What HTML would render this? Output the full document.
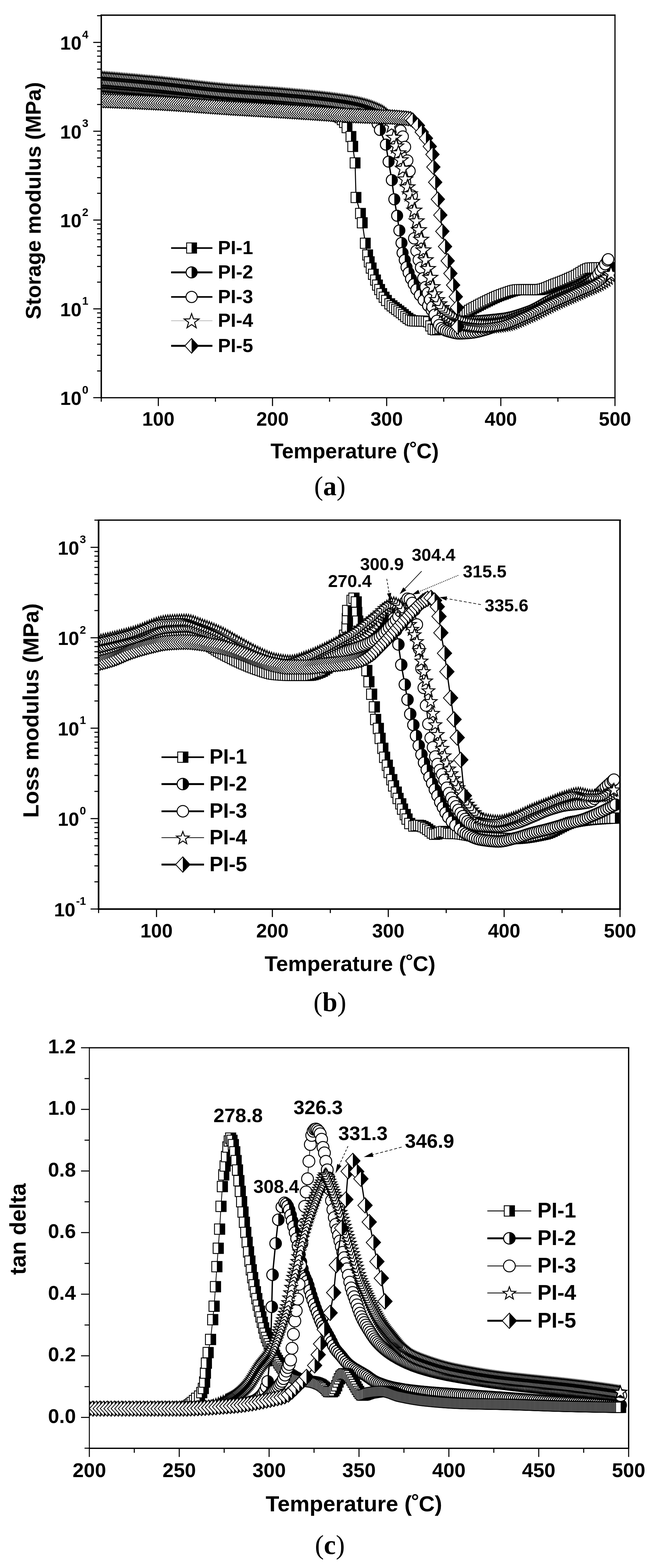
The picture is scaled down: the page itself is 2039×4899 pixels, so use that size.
<!DOCTYPE html>
<html lang="en"><head><meta charset="utf-8"><title>DMA curves of PI films</title><style>html,body{margin:0;padding:0;background:#fff}svg{display:block}.ss{font-family:"Liberation Sans",sans-serif}.sf{font-family:"Liberation Serif","DejaVu Serif",serif}</style></head><body>
<svg width="2039" height="4899" viewBox="0 0 2039 4899"><defs><marker id="m1a" markerUnits="userSpaceOnUse" markerWidth="60" markerHeight="60" viewBox="-30.0 -30.0 60 60" refX="0" refY="0" orient="0" overflow="visible"><rect x="-15.5" y="-16.0" width="31" height="32" fill="#fff" stroke="#000" stroke-width="2.7"/><rect x="0" y="-16.0" width="15.5" height="32" fill="#000"/></marker><g id="gm1a"><rect x="-15.5" y="-16.0" width="31" height="32" fill="#fff" stroke="#000" stroke-width="2.7"/><rect x="0" y="-16.0" width="15.5" height="32" fill="#000"/></g><marker id="m2a" markerUnits="userSpaceOnUse" markerWidth="60" markerHeight="60" viewBox="-30.0 -30.0 60 60" refX="0" refY="0" orient="0" overflow="visible"><circle r="17.2" fill="#fff" stroke="#000" stroke-width="3.2"/><path d="M0,-17.2 A17.2,17.2 0 0 1 0,17.2 Z" fill="#000"/></marker><g id="gm2a"><circle r="17.2" fill="#fff" stroke="#000" stroke-width="3.2"/><path d="M0,-17.2 A17.2,17.2 0 0 1 0,17.2 Z" fill="#000"/></g><marker id="m3a" markerUnits="userSpaceOnUse" markerWidth="60" markerHeight="60" viewBox="-30.0 -30.0 60 60" refX="0" refY="0" orient="0" overflow="visible"><circle r="17.5" fill="#fff" stroke="#000" stroke-width="3.0"/></marker><g id="gm3a"><circle r="17.5" fill="#fff" stroke="#000" stroke-width="3.0"/></g><marker id="m4a" markerUnits="userSpaceOnUse" markerWidth="60" markerHeight="60" viewBox="-30.0 -30.0 60 60" refX="0" refY="0" orient="0" overflow="visible"><polygon points="0.0,-22.5 5.8,-6.0 23.3,-5.6 9.3,5.0 14.4,21.8 0.0,11.8 -14.4,21.8 -9.3,5.0 -23.3,-5.6 -5.8,-6.0" fill="#fff" stroke="#000" stroke-width="3.0" stroke-linejoin="miter"/></marker><g id="gm4a"><polygon points="0.0,-22.5 5.8,-6.0 23.3,-5.6 9.3,5.0 14.4,21.8 0.0,11.8 -14.4,21.8 -9.3,5.0 -23.3,-5.6 -5.8,-6.0" fill="#fff" stroke="#000" stroke-width="3.0" stroke-linejoin="miter"/></g><marker id="m5a" markerUnits="userSpaceOnUse" markerWidth="60" markerHeight="60" viewBox="-30.0 -30.0 60 60" refX="0" refY="0" orient="0" overflow="visible"><polygon points="-21,0 0,-23 21,0 0,23" fill="#fff" stroke="#000" stroke-width="2.5"/><polygon points="0,-23 21,0 0,23" fill="#000"/></marker><g id="gm5a"><polygon points="-21,0 0,-23 21,0 0,23" fill="#fff" stroke="#000" stroke-width="2.5"/><polygon points="0,-23 21,0 0,23" fill="#000"/></g><marker id="m1b" markerUnits="userSpaceOnUse" markerWidth="60" markerHeight="60" viewBox="-30.0 -30.0 60 60" refX="0" refY="0" orient="0" overflow="visible"><rect x="-16.0" y="-16.25" width="32" height="32.5" fill="#fff" stroke="#000" stroke-width="2.7"/><rect x="0" y="-16.25" width="16.0" height="32.5" fill="#000"/></marker><g id="gm1b"><rect x="-16.0" y="-16.25" width="32" height="32.5" fill="#fff" stroke="#000" stroke-width="2.7"/><rect x="0" y="-16.25" width="16.0" height="32.5" fill="#000"/></g><marker id="m2b" markerUnits="userSpaceOnUse" markerWidth="60" markerHeight="60" viewBox="-30.0 -30.0 60 60" refX="0" refY="0" orient="0" overflow="visible"><circle r="17.8" fill="#fff" stroke="#000" stroke-width="3.2"/><path d="M0,-17.8 A17.8,17.8 0 0 1 0,17.8 Z" fill="#000"/></marker><g id="gm2b"><circle r="17.8" fill="#fff" stroke="#000" stroke-width="3.2"/><path d="M0,-17.8 A17.8,17.8 0 0 1 0,17.8 Z" fill="#000"/></g><marker id="m3b" markerUnits="userSpaceOnUse" markerWidth="60" markerHeight="60" viewBox="-30.0 -30.0 60 60" refX="0" refY="0" orient="0" overflow="visible"><circle r="18" fill="#fff" stroke="#000" stroke-width="3.0"/></marker><g id="gm3b"><circle r="18" fill="#fff" stroke="#000" stroke-width="3.0"/></g><marker id="m4b" markerUnits="userSpaceOnUse" markerWidth="60" markerHeight="60" viewBox="-30.0 -30.0 60 60" refX="0" refY="0" orient="0" overflow="visible"><polygon points="0.0,-19.3 5.1,-5.3 20.0,-4.8 8.2,4.3 12.3,18.7 0.0,10.3 -12.3,18.7 -8.2,4.3 -20.0,-4.8 -5.1,-5.3" fill="#fff" stroke="#000" stroke-width="3.0" stroke-linejoin="miter"/></marker><g id="gm4b"><polygon points="0.0,-19.3 5.1,-5.3 20.0,-4.8 8.2,4.3 12.3,18.7 0.0,10.3 -12.3,18.7 -8.2,4.3 -20.0,-4.8 -5.1,-5.3" fill="#fff" stroke="#000" stroke-width="3.0" stroke-linejoin="miter"/></g><marker id="m5b" markerUnits="userSpaceOnUse" markerWidth="60" markerHeight="60" viewBox="-30.0 -30.0 60 60" refX="0" refY="0" orient="0" overflow="visible"><polygon points="-22.5,0 0,-24 22.5,0 0,24" fill="#fff" stroke="#000" stroke-width="2.5"/><polygon points="0,-24 22.5,0 0,24" fill="#000"/></marker><g id="gm5b"><polygon points="-22.5,0 0,-24 22.5,0 0,24" fill="#fff" stroke="#000" stroke-width="2.5"/><polygon points="0,-24 22.5,0 0,24" fill="#000"/></g><marker id="m1c" markerUnits="userSpaceOnUse" markerWidth="60" markerHeight="60" viewBox="-30.0 -30.0 60 60" refX="0" refY="0" orient="0" overflow="visible"><rect x="-16.0" y="-16.25" width="32" height="32.5" fill="#fff" stroke="#000" stroke-width="2.7"/><rect x="0" y="-16.25" width="16.0" height="32.5" fill="#000"/></marker><g id="gm1c"><rect x="-16.0" y="-16.25" width="32" height="32.5" fill="#fff" stroke="#000" stroke-width="2.7"/><rect x="0" y="-16.25" width="16.0" height="32.5" fill="#000"/></g><marker id="m2c" markerUnits="userSpaceOnUse" markerWidth="60" markerHeight="60" viewBox="-30.0 -30.0 60 60" refX="0" refY="0" orient="0" overflow="visible"><circle r="18" fill="#fff" stroke="#000" stroke-width="3.2"/><path d="M0,-18 A18,18 0 0 1 0,18 Z" fill="#000"/></marker><g id="gm2c"><circle r="18" fill="#fff" stroke="#000" stroke-width="3.2"/><path d="M0,-18 A18,18 0 0 1 0,18 Z" fill="#000"/></g><marker id="m3c" markerUnits="userSpaceOnUse" markerWidth="60" markerHeight="60" viewBox="-30.0 -30.0 60 60" refX="0" refY="0" orient="0" overflow="visible"><circle r="18.5" fill="#fff" stroke="#000" stroke-width="3.0"/></marker><g id="gm3c"><circle r="18.5" fill="#fff" stroke="#000" stroke-width="3.0"/></g><marker id="m4c" markerUnits="userSpaceOnUse" markerWidth="60" markerHeight="60" viewBox="-30.0 -30.0 60 60" refX="0" refY="0" orient="0" overflow="visible"><polygon points="0.0,-19.3 5.1,-5.3 20.0,-4.8 8.2,4.3 12.3,18.7 0.0,10.3 -12.3,18.7 -8.2,4.3 -20.0,-4.8 -5.1,-5.3" fill="#fff" stroke="#000" stroke-width="3.0" stroke-linejoin="miter"/></marker><g id="gm4c"><polygon points="0.0,-19.3 5.1,-5.3 20.0,-4.8 8.2,4.3 12.3,18.7 0.0,10.3 -12.3,18.7 -8.2,4.3 -20.0,-4.8 -5.1,-5.3" fill="#fff" stroke="#000" stroke-width="3.0" stroke-linejoin="miter"/></g><marker id="m5c" markerUnits="userSpaceOnUse" markerWidth="60" markerHeight="60" viewBox="-30.0 -30.0 60 60" refX="0" refY="0" orient="0" overflow="visible"><polygon points="-22.5,0 0,-24 22.5,0 0,24" fill="#fff" stroke="#000" stroke-width="2.5"/><polygon points="0,-24 22.5,0 0,24" fill="#000"/></marker><g id="gm5c"><polygon points="-22.5,0 0,-24 22.5,0 0,24" fill="#fff" stroke="#000" stroke-width="2.5"/><polygon points="0,-24 22.5,0 0,24" fill="#000"/></g></defs>
<clipPath id="ca"><rect x="316.2" y="47.4" width="1604.1" height="1195.1999999999998"/></clipPath>
<g clip-path="url(#ca)">
<polyline points="316,300 323.1,300.3 330.2,300.6 337.3,300.9 344.4,301.3 351.5,301.6 358.6,301.9 365.7,302.3 372.8,302.6 379.9,303 387,303.4 394.1,303.7 401.2,304.1 408.3,304.5 415.4,304.9 422.5,305.3 429.6,305.7 436.7,306.1 443.8,306.5 450.9,306.9 458,307.4 465.1,307.8 472.2,308.2 479.3,308.7 486.4,309.1 493.5,309.6 500.6,310 507.7,310.5 514.8,311 521.9,311.5 529,312 536.1,312.5 543.2,313 550.3,313.5 557.4,314.1 564.5,314.6 571.6,315.2 578.7,315.7 585.8,316.3 592.9,316.9 600,317.4 607.1,318 614.2,318.6 621.3,319.2 628.4,319.8 635.5,320.4 642.6,321 649.7,321.6 656.8,322.2 663.9,322.9 671,323.5 678.1,324.1 685.2,324.7 692.3,325.3 699.4,325.9 706.5,326.6 713.6,327.2 720.7,327.8 727.8,328.4 734.9,329.1 742,329.7 749.1,330.3 756.2,331 763.3,331.6 770.4,332.2 777.5,332.9 784.6,333.5 791.7,334.2 798.8,334.9 805.9,335.5 813,336.2 820.1,336.9 827.2,337.6 834.3,338.3 841.4,339 848.5,339.7 855.6,340.4 862.7,341.1 869.8,341.8 876.9,342.6 884,343.3 891.1,344 898.2,344.8 905.3,345.6 912.4,346.2 919.5,346.9 926.6,347.4 933.7,348 940.8,348.5 947.9,349.1 955,349.6 962.1,350.1 969.2,350.7 976.3,351.3 983.4,352 990.5,352.7 997.6,353.5 1004.7,354.4 1011.8,355.4 1018.9,356.4 1026,357.6 1033.1,359 1040.2,360.4 1047.3,362.1 1054.4,363.8 1061.5,367.3 1068.6,373.7 1075.7,382.4 1083.6,398.7 1095.9,426.7 1101.5,457.5 1108.8,509 1111.6,617 1125.6,667 1131.2,696 1140.7,760 1148,796.6 1153,818 1159,837.5 1165.9,857 1172.6,875 1178.7,890.7 1185.4,904.7 1192,917.5 1199.4,928.7 1206.7,938.8 1217.1,949.3 1224.2,955.5 1231.3,961.2 1238.4,966.5 1245.5,971.7 1252.6,977 1259.7,982.9 1266.8,989 1273.9,994.6 1281,999.2 1288.1,1002 1295.2,1002.8 1302.3,1003 1309.4,1003.1 1316.5,1003.2 1323.6,1003.4 1330.7,1003.6 1337.8,1005.7 1344.9,1018.2 1352,1028.4 1359.1,1030.4 1366.2,1029 1373.3,1026.4 1380.4,1022.9 1387.5,1019 1394.6,1014.9 1401.7,1011.1 1408.8,1006.9 1415.9,1002.1 1423,997.1 1430.1,991.9 1437.2,986.9 1444.3,982.3 1451.4,978 1458.5,973.8 1465.6,969.7 1472.7,965.7 1479.8,961.7 1486.9,957.9 1494,954.1 1501.1,950.5 1508.2,946.9 1515.3,943.4 1522.4,939.9 1529.5,936.4 1536.6,933 1543.7,929.7 1550.8,926.6 1557.9,923.7 1565,921 1572.1,918.6 1579.2,916 1586.3,913.5 1593.4,911 1600.5,908.8 1607.6,907 1614.7,905.7 1621.8,905 1628.9,905 1636,905 1643.1,905 1650.2,905 1657.3,905 1664.4,905 1671.5,905 1678.6,905 1685.7,904.7 1692.8,903.4 1699.9,901.4 1707,898.9 1714.1,896 1721.2,893 1728.3,890 1735.4,887.2 1742.5,884.6 1749.6,881.9 1756.7,879.1 1763.8,876.2 1770.9,873.2 1778,870.1 1785.1,867 1792.2,863.9 1799.3,860.3 1806.4,856.1 1813.5,851.7 1820.6,847.3 1827.7,843.3 1834.8,840 1841.9,837.8 1849,837 1856.1,836.8 1863.2,836.6 1870.3,836.4 1877.4,836.3 1884.5,836.2 1891.6,836.1 1898.7,836 1905.8,836 1908,836" fill="none" stroke="#000" stroke-width="3.2" stroke-linejoin="round" marker-start="url(#m1a)" marker-mid="url(#m1a)" marker-end="url(#m1a)"/>
<polyline points="316,270 321.2,270.4 326.4,270.8 331.6,271.1 336.8,271.5 342,271.9 347.2,272.3 352.4,272.7 357.6,273.1 362.8,273.5 368,273.9 373.2,274.3 378.4,274.7 383.6,275.1 388.8,275.6 394,276 399.2,276.4 404.4,276.8 409.6,277.2 414.8,277.7 420,278.1 425.2,278.5 430.4,279 435.6,279.4 440.8,279.8 446,280.3 451.2,280.7 456.4,281.2 461.6,281.6 466.8,282.1 472,282.5 477.2,283 482.4,283.4 487.6,283.9 492.8,284.4 498,284.8 503.2,285.3 508.4,285.8 513.6,286.2 518.8,286.7 524,287.2 529.2,287.7 534.4,288.2 539.6,288.7 544.8,289.2 550,289.8 555.2,290.3 560.4,290.8 565.6,291.3 570.8,291.9 576,292.4 581.2,292.9 586.4,293.5 591.6,294 596.8,294.5 602,295.1 607.2,295.6 612.4,296.2 617.6,296.7 622.8,297.2 628,297.8 633.2,298.3 638.4,298.9 643.6,299.4 648.8,299.9 654,300.5 659.2,301 664.4,301.5 669.6,302 674.8,302.6 680,303.1 685.2,303.6 690.4,304.1 695.6,304.6 700.8,305.1 706,305.6 711.2,306 716.4,306.5 721.6,307 726.8,307.5 732,307.9 737.2,308.4 742.4,308.9 747.6,309.3 752.8,309.8 758,310.2 763.2,310.7 768.4,311.1 773.6,311.6 778.8,312 784,312.5 789.2,312.9 794.4,313.4 799.6,313.8 804.8,314.3 810,314.7 815.2,315.2 820.4,315.6 825.6,316.1 830.8,316.5 836,317 841.2,317.4 846.4,317.9 851.6,318.4 856.8,318.9 862,319.3 867.2,319.8 872.4,320.3 877.6,320.8 882.8,321.3 888,321.8 893.2,322.3 898.4,322.8 903.6,323.4 908.8,323.9 914,324.4 919.2,324.9 924.4,325.4 929.6,325.8 934.8,326.3 940,326.8 945.2,327.2 950.4,327.7 955.6,328.2 960.8,328.7 966,329.1 971.2,329.6 976.4,330.1 981.6,330.6 986.8,331.1 992,331.6 997.2,332.1 1002.4,332.6 1007.6,333.1 1012.8,333.7 1018,334.2 1023.2,334.8 1028.4,335.4 1033.6,336 1038.8,336.7 1044,337.3 1049.2,338 1054.4,338.7 1059.6,339.4 1064.8,340.2 1070,340.9 1075.2,341.7 1080.4,342.6 1085.6,343.4 1090.8,344.3 1096,345.3 1101.2,346.2 1106.4,347.2 1111.6,348.2 1116.8,349.2 1122,350.3 1127.2,351.5 1132.4,352.9 1137.6,354.4 1142.8,356.2 1148,358.1 1153.2,360.4 1158.4,363 1163.6,365.9 1168.8,369.2 1174,374.9 1179.2,386.4 1186.3,406 1205,451.8 1213.4,505 1223.5,562.7 1231.3,622.6 1240,674 1247,720 1253.7,759 1257,790 1263.8,812.3 1269.4,834.7 1276,852 1283.4,871 1291.8,888 1300,904.7 1311,922 1322.6,938 1336.6,955 1347.8,969 1357.1,978 1364.2,983.9 1371.3,988.8 1378.4,993.5 1385.5,997.8 1392.6,1001.2 1399.7,1003 1406.8,1003.6 1413.9,1004.1 1421,1004.5 1428.1,1004.8 1435.2,1005 1442.3,1005 1449.4,1004.9 1456.5,1004.8 1463.6,1004.6 1470.7,1004.3 1477.8,1004 1484.9,1003.6 1492,1003.2 1499.1,1002.7 1506.2,1002.2 1513.3,1001.6 1520.4,1001 1527.5,1000.3 1534.6,999.6 1541.7,998.9 1548.8,998.2 1555.9,997.4 1563,996.6 1570.1,995.7 1577.2,994.7 1584.3,993.4 1591.4,991.9 1598.5,990.2 1605.6,988.3 1612.7,986.3 1619.8,984.1 1626.9,981.8 1634,979.4 1641.1,976.9 1648.2,974.4 1655.3,971.8 1662.4,968.8 1669.5,965.4 1676.6,961.8 1683.7,957.9 1690.8,953.9 1697.9,949.7 1705,945.6 1712.1,941.5 1719.2,937.5 1726.3,933.7 1733.4,930.2 1740.5,927 1747.6,924 1754.7,921.1 1761.8,918.4 1768.9,915.8 1776,913.2 1783.1,910.6 1790.2,907.9 1797.3,905.1 1804.4,902.2 1811.5,899 1818.6,895.7 1825.7,892 1832.8,887.9 1839.9,883.5 1847,878.9 1854.1,874.2 1861.2,869.4 1868.3,864.8 1875.4,860.4 1882.5,856.1 1889.6,852 1896.7,847.9 1900,846" fill="none" stroke="#000" stroke-width="4.2" stroke-linejoin="round" marker-start="url(#m2a)" marker-mid="url(#m2a)" marker-end="url(#m2a)"/>
<polyline points="316,258 321.2,258.4 326.4,258.8 331.6,259.1 336.8,259.5 342,259.9 347.2,260.3 352.4,260.7 357.6,261.1 362.8,261.5 368,261.9 373.2,262.3 378.4,262.7 383.6,263.1 388.8,263.6 394,264 399.2,264.4 404.4,264.8 409.6,265.2 414.8,265.7 420,266.1 425.2,266.5 430.4,267 435.6,267.4 440.8,267.8 446,268.3 451.2,268.7 456.4,269.2 461.6,269.6 466.8,270.1 472,270.5 477.2,271 482.4,271.4 487.6,271.9 492.8,272.4 498,272.8 503.2,273.3 508.4,273.8 513.6,274.2 518.8,274.7 524,275.2 529.2,275.7 534.4,276.2 539.6,276.7 544.8,277.2 550,277.8 555.2,278.3 560.4,278.8 565.6,279.3 570.8,279.9 576,280.4 581.2,280.9 586.4,281.5 591.6,282 596.8,282.5 602,283.1 607.2,283.6 612.4,284.2 617.6,284.7 622.8,285.2 628,285.8 633.2,286.3 638.4,286.9 643.6,287.4 648.8,287.9 654,288.5 659.2,289 664.4,289.5 669.6,290 674.8,290.6 680,291.1 685.2,291.6 690.4,292.1 695.6,292.6 700.8,293.1 706,293.6 711.2,294 716.4,294.5 721.6,295 726.8,295.5 732,295.9 737.2,296.4 742.4,296.8 747.6,297.3 752.8,297.8 758,298.2 763.2,298.7 768.4,299.1 773.6,299.5 778.8,300 784,300.4 789.2,300.9 794.4,301.3 799.6,301.8 804.8,302.2 810,302.7 815.2,303.1 820.4,303.6 825.6,304 830.8,304.5 836,304.9 841.2,305.4 846.4,305.9 851.6,306.3 856.8,306.8 862,307.3 867.2,307.8 872.4,308.3 877.6,308.8 882.8,309.3 888,309.8 893.2,310.3 898.4,310.8 903.6,311.4 908.8,311.9 914,312.4 919.2,313 924.4,313.5 929.6,314 934.8,314.5 940,315 945.2,315.6 950.4,316.1 955.6,316.6 960.8,317.2 966,317.7 971.2,318.2 976.4,318.8 981.6,319.3 986.8,319.9 992,320.5 997.2,321 1002.4,321.6 1007.6,322.2 1012.8,322.8 1018,323.4 1023.2,324.1 1028.4,324.7 1033.6,325.3 1038.8,326 1044,326.7 1049.2,327.4 1054.4,328.1 1059.6,328.8 1064.8,329.5 1070,330.3 1075.2,331.1 1080.4,331.8 1085.6,332.7 1090.8,333.5 1096,334.3 1101.2,335.2 1106.4,336.1 1111.6,337 1116.8,337.9 1122,338.8 1127.2,339.8 1132.4,340.8 1137.6,341.9 1142.8,343 1148,344.1 1153.2,345.3 1158.4,346.6 1163.6,348 1168.8,349.4 1174,350.9 1179.2,352.5 1184.4,354.3 1189.6,356.1 1194.8,358 1200,360 1205.2,362.3 1210.4,365.1 1215.6,368.4 1220.8,372.2 1226,376.4 1231.2,381.2 1236.4,386.5 1243.5,395.6 1250.6,408 1257.7,426.5 1264.8,459.1 1271.9,501.4 1279,534.2 1286.1,611.1 1293.2,744.7 1300.3,783.8 1307.4,812.1 1314.5,836.2 1321.6,869.3 1328.7,896.9 1335.8,915.6 1342.9,936.2 1350,958.9 1357.1,983.3 1364.2,1002.3 1371.3,1015.4 1378.4,1024.9 1385.5,1029.6 1392.6,1032.8 1399.7,1035.1 1406.8,1037 1413.9,1038.9 1421,1040.6 1428.1,1041.7 1435.2,1042 1442.3,1041.9 1449.4,1041.5 1456.5,1041.1 1463.6,1040.5 1470.7,1039.9 1477.8,1039.1 1484.9,1037.8 1492,1036.2 1499.1,1034.5 1506.2,1032.6 1513.3,1030.6 1520.4,1028.5 1527.5,1026 1534.6,1023.3 1541.7,1020.5 1548.8,1017.6 1555.9,1014.7 1563,1011.9 1570.1,1009.2 1577.2,1006.7 1584.3,1004.2 1591.4,1001.7 1598.5,999.2 1605.6,996.7 1612.7,994.1 1619.8,991.6 1626.9,988.9 1634,986.3 1641.1,983.6 1648.2,980.9 1655.3,978.2 1662.4,975.4 1669.5,972.5 1676.6,969.5 1683.7,966.3 1690.8,963 1697.9,959.4 1705,955.8 1712.1,952.1 1719.2,948.4 1726.3,944.7 1733.4,941.2 1740.5,937.9 1747.6,934.8 1754.7,931.8 1761.8,928.8 1768.9,925.8 1776,922.7 1783.1,919.4 1790.2,915.9 1797.3,912.2 1804.4,908.5 1811.5,904.7 1818.6,900.7 1825.7,896.4 1832.8,891.7 1839.9,886.6 1847,880.9 1854.1,874.1 1861.2,865.8 1868.3,856.4 1875.4,846.5 1882.5,836.4 1889.6,825.5 1896.7,813.9 1899,810" fill="none" stroke="#000" stroke-width="3.0" stroke-linejoin="round" marker-start="url(#m3a)" marker-mid="url(#m3a)" marker-end="url(#m3a)"/>
<polyline points="316,246 321.2,246.4 326.4,246.8 331.6,247.2 336.8,247.6 342,248 347.2,248.4 352.4,248.8 357.6,249.3 362.8,249.7 368,250.1 373.2,250.6 378.4,251 383.6,251.4 388.8,251.9 394,252.3 399.2,252.8 404.4,253.2 409.6,253.7 414.8,254.1 420,254.6 425.2,255 430.4,255.5 435.6,256 440.8,256.4 446,256.9 451.2,257.4 456.4,257.9 461.6,258.4 466.8,258.8 472,259.3 477.2,259.8 482.4,260.3 487.6,260.8 492.8,261.3 498,261.8 503.2,262.3 508.4,262.8 513.6,263.4 518.8,263.9 524,264.5 529.2,265 534.4,265.6 539.6,266.2 544.8,266.7 550,267.3 555.2,267.9 560.4,268.5 565.6,269.1 570.8,269.7 576,270.4 581.2,271 586.4,271.6 591.6,272.2 596.8,272.8 602,273.4 607.2,274 612.4,274.7 617.6,275.3 622.8,275.9 628,276.5 633.2,277.1 638.4,277.7 643.6,278.3 648.8,278.8 654,279.4 659.2,280 664.4,280.5 669.6,281.1 674.8,281.6 680,282.1 685.2,282.6 690.4,283.1 695.6,283.6 700.8,284.1 706,284.5 711.2,285 716.4,285.4 721.6,285.8 726.8,286.2 732,286.7 737.2,287.1 742.4,287.4 747.6,287.8 752.8,288.2 758,288.6 763.2,288.9 768.4,289.3 773.6,289.7 778.8,290 784,290.4 789.2,290.7 794.4,291.1 799.6,291.4 804.8,291.8 810,292.1 815.2,292.5 820.4,292.8 825.6,293.2 830.8,293.6 836,293.9 841.2,294.3 846.4,294.7 851.6,295.1 856.8,295.4 862,295.8 867.2,296.2 872.4,296.7 877.6,297.1 882.8,297.5 888,297.9 893.2,298.4 898.4,298.9 903.6,299.3 908.8,299.8 914,300.3 919.2,300.7 924.4,301.2 929.6,301.7 934.8,302.1 940,302.6 945.2,303.1 950.4,303.5 955.6,304 960.8,304.5 966,305 971.2,305.5 976.4,306 981.6,306.5 986.8,307 992,307.6 997.2,308.1 1002.4,308.7 1007.6,309.2 1012.8,309.8 1018,310.4 1023.2,311 1028.4,311.6 1033.6,312.2 1038.8,312.9 1044,313.5 1049.2,314.2 1054.4,314.9 1059.6,315.7 1064.8,316.4 1070,317.2 1075.2,317.9 1080.4,318.7 1085.6,319.6 1090.8,320.4 1096,321.3 1101.2,322.2 1106.4,323.2 1111.6,324.2 1116.8,325.2 1122,326.4 1127.2,327.6 1132.4,328.9 1137.6,330.2 1142.8,331.7 1148,333.2 1153.2,334.9 1158.4,336.6 1163.6,338.5 1168.8,340.4 1174,342.5 1179.2,344.7 1184.4,346.9 1189.6,349.3 1194.8,352.1 1200,355.4 1205.2,359.5 1210.4,364.5 1215.6,370.9 1222.7,390.9 1229.8,428.5 1236.9,455.5 1244,476.9 1251.1,498.7 1258.2,525.2 1265.3,558.6 1272.4,583.3 1279.5,605 1286.6,628.6 1293.7,656 1300.8,689.4 1307.9,717.2 1315,747.1 1322.1,780.3 1329.2,811.1 1336.3,838.4 1343.4,866 1350.5,895.3 1357.6,917.7 1364.7,935.8 1371.8,948.7 1378.9,960.2 1386,970.7 1393.1,977.7 1400.2,983.3 1407.3,988.4 1414.4,993.3 1421.5,997.7 1428.6,1001.2 1435.7,1004.3 1442.8,1007.2 1449.9,1009.6 1457,1011.4 1464.1,1012.7 1471.2,1013.8 1478.3,1014.9 1485.4,1015.8 1492.5,1016.6 1499.6,1017.2 1506.7,1017.7 1513.8,1018 1520.9,1018 1528,1017.7 1535.1,1017.2 1542.2,1016.6 1549.3,1015.7 1556.4,1014.7 1563.5,1013.7 1570.6,1012.5 1577.7,1011.3 1584.8,1009.7 1591.9,1007.7 1599,1005.4 1606.1,1002.8 1613.2,1000 1620.3,997 1627.4,993.9 1634.5,990.7 1641.6,987.6 1648.7,984.5 1655.8,981.5 1662.9,978.3 1670,974.9 1677.1,971.4 1684.2,967.8 1691.3,964.2 1698.4,960.6 1705.5,957 1712.6,953.5 1719.7,950 1726.8,946.7 1733.9,943.5 1741,940.3 1748.1,937.2 1755.2,934.1 1762.3,931.1 1769.4,928 1776.5,925 1783.6,921.9 1790.7,918.8 1797.8,915.6 1804.9,912.4 1812,909.2 1819.1,906.1 1826.2,903.1 1833.3,900.1 1840.4,897.2 1847.5,894.2 1854.6,891.1 1861.7,887.7 1868.8,884.2 1875.9,880.3 1883,876 1890.1,871.3 1897.2,865.6 1904.3,858.1 1908,854" fill="none" stroke="#777" stroke-width="1.4" stroke-linejoin="round" marker-start="url(#m4a)" marker-mid="url(#m4a)" marker-end="url(#m4a)"/>
<polyline points="316,314 323.1,314.2 330.2,314.5 337.3,314.7 344.4,314.9 351.5,315.2 358.6,315.5 365.7,315.7 372.8,316 379.9,316.3 387,316.6 394.1,316.9 401.2,317.2 408.3,317.5 415.4,317.8 422.5,318.1 429.6,318.5 436.7,318.8 443.8,319.1 450.9,319.5 458,319.8 465.1,320.2 472.2,320.5 479.3,320.9 486.4,321.3 493.5,321.7 500.6,322 507.7,322.4 514.8,322.8 521.9,323.3 529,323.7 536.1,324.2 543.2,324.6 550.3,325.1 557.4,325.6 564.5,326.1 571.6,326.6 578.7,327.1 585.8,327.7 592.9,328.2 600,328.7 607.1,329.3 614.2,329.8 621.3,330.3 628.4,330.9 635.5,331.4 642.6,331.9 649.7,332.5 656.8,333 663.9,333.5 671,334 678.1,334.5 685.2,335 692.3,335.5 699.4,336 706.5,336.4 713.6,336.9 720.7,337.3 727.8,337.8 734.9,338.2 742,338.6 749.1,339.1 756.2,339.5 763.3,339.9 770.4,340.3 777.5,340.7 784.6,341.2 791.7,341.6 798.8,342 805.9,342.4 813,342.8 820.1,343.2 827.2,343.6 834.3,344.1 841.4,344.5 848.5,344.9 855.6,345.3 862.7,345.7 869.8,346.2 876.9,346.6 884,347 891.1,347.4 898.2,347.9 905.3,348.3 912.4,348.8 919.5,349.2 926.6,349.7 933.7,350.2 940.8,350.6 947.9,351.1 955,351.6 962.1,352 969.2,352.5 976.3,353 983.4,353.5 990.5,353.9 997.6,354.4 1004.7,354.9 1011.8,355.4 1018.9,355.8 1026,356.3 1033.1,356.8 1040.2,357.2 1047.3,357.7 1054.4,358.2 1061.5,358.6 1068.6,359.1 1075.7,359.5 1082.8,360 1089.9,360.4 1097,360.8 1104.1,361.2 1111.2,361.6 1118.3,361.9 1125.4,362.2 1132.5,362.5 1139.6,362.8 1146.7,363 1153.8,363.2 1160.9,363.4 1168,363.6 1175.1,363.8 1182.2,364.1 1189.3,364.3 1196.4,364.6 1203.5,364.8 1210.6,365.2 1217.7,365.5 1224.8,365.9 1231.9,366.3 1239,366.8 1246.1,367.4 1253.2,368 1260.3,368.7 1267.4,369.4 1274.5,370.3 1281.6,371.4 1288.7,375.6 1305,392 1317,412.7 1330,432 1342,457.5 1350.5,482.6 1353.3,521.8 1359,569.4 1367.3,622.5 1375,672 1381.3,722.8 1389.7,770.3 1398,815 1406.5,854.3 1415,890.7 1423.3,927 1427,961 1429,1021 1429,1021" fill="none" stroke="#000" stroke-width="3.6" stroke-linejoin="round" marker-start="url(#m5a)" marker-mid="url(#m5a)" marker-end="url(#m5a)"/>
</g>
<path d="M316.2,45.199999999999996V1244.3999999999999" stroke="#000" stroke-width="4.4" fill="none"/>
<path d="M1920.3,45.199999999999996V1244.3999999999999" stroke="#000" stroke-width="3.6" fill="none"/>
<path d="M314.0,47.4H1922.1" stroke="#000" stroke-width="4.4" fill="none"/>
<path d="M314.0,1242.6H1922.1" stroke="#000" stroke-width="3.6" fill="none"/>
<line x1="291.2" y1="132.5" x2="316.2" y2="132.5" stroke="#000" stroke-width="3.4" />
<text x="276" y="155" class="ss" font-size="60" font-weight="bold" text-anchor="end">10<tspan font-size="35" dy="-35.5" dx="2">4</tspan></text>
<line x1="291.2" y1="410" x2="316.2" y2="410" stroke="#000" stroke-width="3.4" />
<text x="276" y="432.5" class="ss" font-size="60" font-weight="bold" text-anchor="end">10<tspan font-size="35" dy="-35.5" dx="2">3</tspan></text>
<line x1="291.2" y1="687.5" x2="316.2" y2="687.5" stroke="#000" stroke-width="3.4" />
<text x="276" y="710" class="ss" font-size="60" font-weight="bold" text-anchor="end">10<tspan font-size="35" dy="-35.5" dx="2">2</tspan></text>
<line x1="291.2" y1="965" x2="316.2" y2="965" stroke="#000" stroke-width="3.4" />
<text x="276" y="987.5" class="ss" font-size="60" font-weight="bold" text-anchor="end">10<tspan font-size="35" dy="-35.5" dx="2">1</tspan></text>
<line x1="291.2" y1="1242.5" x2="316.2" y2="1242.5" stroke="#000" stroke-width="3.4" />
<text x="276" y="1265" class="ss" font-size="60" font-weight="bold" text-anchor="end">10<tspan font-size="35" dy="-35.5" dx="2">0</tspan></text>
<line x1="303.2" y1="49" x2="316.2" y2="49" stroke="#000" stroke-width="3.4" />
<line x1="303.2" y1="326.5" x2="316.2" y2="326.5" stroke="#000" stroke-width="3.4" />
<line x1="303.2" y1="277.6" x2="316.2" y2="277.6" stroke="#000" stroke-width="3.4" />
<line x1="303.2" y1="242.9" x2="316.2" y2="242.9" stroke="#000" stroke-width="3.4" />
<line x1="303.2" y1="216" x2="316.2" y2="216" stroke="#000" stroke-width="3.4" />
<line x1="303.2" y1="194.1" x2="316.2" y2="194.1" stroke="#000" stroke-width="3.4" />
<line x1="303.2" y1="175.5" x2="316.2" y2="175.5" stroke="#000" stroke-width="3.4" />
<line x1="303.2" y1="159.4" x2="316.2" y2="159.4" stroke="#000" stroke-width="3.4" />
<line x1="303.2" y1="145.2" x2="316.2" y2="145.2" stroke="#000" stroke-width="3.4" />
<line x1="303.2" y1="604" x2="316.2" y2="604" stroke="#000" stroke-width="3.4" />
<line x1="303.2" y1="555.1" x2="316.2" y2="555.1" stroke="#000" stroke-width="3.4" />
<line x1="303.2" y1="520.4" x2="316.2" y2="520.4" stroke="#000" stroke-width="3.4" />
<line x1="303.2" y1="493.5" x2="316.2" y2="493.5" stroke="#000" stroke-width="3.4" />
<line x1="303.2" y1="471.6" x2="316.2" y2="471.6" stroke="#000" stroke-width="3.4" />
<line x1="303.2" y1="453" x2="316.2" y2="453" stroke="#000" stroke-width="3.4" />
<line x1="303.2" y1="436.9" x2="316.2" y2="436.9" stroke="#000" stroke-width="3.4" />
<line x1="303.2" y1="422.7" x2="316.2" y2="422.7" stroke="#000" stroke-width="3.4" />
<line x1="303.2" y1="881.5" x2="316.2" y2="881.5" stroke="#000" stroke-width="3.4" />
<line x1="303.2" y1="832.6" x2="316.2" y2="832.6" stroke="#000" stroke-width="3.4" />
<line x1="303.2" y1="797.9" x2="316.2" y2="797.9" stroke="#000" stroke-width="3.4" />
<line x1="303.2" y1="771" x2="316.2" y2="771" stroke="#000" stroke-width="3.4" />
<line x1="303.2" y1="749.1" x2="316.2" y2="749.1" stroke="#000" stroke-width="3.4" />
<line x1="303.2" y1="730.5" x2="316.2" y2="730.5" stroke="#000" stroke-width="3.4" />
<line x1="303.2" y1="714.4" x2="316.2" y2="714.4" stroke="#000" stroke-width="3.4" />
<line x1="303.2" y1="700.2" x2="316.2" y2="700.2" stroke="#000" stroke-width="3.4" />
<line x1="303.2" y1="1159" x2="316.2" y2="1159" stroke="#000" stroke-width="3.4" />
<line x1="303.2" y1="1110.1" x2="316.2" y2="1110.1" stroke="#000" stroke-width="3.4" />
<line x1="303.2" y1="1075.4" x2="316.2" y2="1075.4" stroke="#000" stroke-width="3.4" />
<line x1="303.2" y1="1048.5" x2="316.2" y2="1048.5" stroke="#000" stroke-width="3.4" />
<line x1="303.2" y1="1026.6" x2="316.2" y2="1026.6" stroke="#000" stroke-width="3.4" />
<line x1="303.2" y1="1008" x2="316.2" y2="1008" stroke="#000" stroke-width="3.4" />
<line x1="303.2" y1="991.9" x2="316.2" y2="991.9" stroke="#000" stroke-width="3.4" />
<line x1="303.2" y1="977.7" x2="316.2" y2="977.7" stroke="#000" stroke-width="3.4" />
<line x1="316.2" y1="1242.6" x2="316.2" y2="1255.1" stroke="#000" stroke-width="3.4" />
<line x1="494.4" y1="1242.6" x2="494.4" y2="1268.6" stroke="#000" stroke-width="3.4" />
<text x="494.4" y="1330" class="ss" font-size="60.5" font-weight="bold" text-anchor="middle" >100</text>
<line x1="672.7" y1="1242.6" x2="672.7" y2="1255.1" stroke="#000" stroke-width="3.4" />
<line x1="850.9" y1="1242.6" x2="850.9" y2="1268.6" stroke="#000" stroke-width="3.4" />
<text x="850.9" y="1330" class="ss" font-size="60.5" font-weight="bold" text-anchor="middle" >200</text>
<line x1="1029.1" y1="1242.6" x2="1029.1" y2="1255.1" stroke="#000" stroke-width="3.4" />
<line x1="1207.4" y1="1242.6" x2="1207.4" y2="1268.6" stroke="#000" stroke-width="3.4" />
<text x="1207.4" y="1330" class="ss" font-size="60.5" font-weight="bold" text-anchor="middle" >300</text>
<line x1="1385.6" y1="1242.6" x2="1385.6" y2="1255.1" stroke="#000" stroke-width="3.4" />
<line x1="1563.8" y1="1242.6" x2="1563.8" y2="1268.6" stroke="#000" stroke-width="3.4" />
<text x="1563.8" y="1330" class="ss" font-size="60.5" font-weight="bold" text-anchor="middle" >400</text>
<line x1="1742.1" y1="1242.6" x2="1742.1" y2="1255.1" stroke="#000" stroke-width="3.4" />
<line x1="1920.3" y1="1242.6" x2="1920.3" y2="1268.6" stroke="#000" stroke-width="3.4" />
<text x="1920.3" y="1330" class="ss" font-size="60.5" font-weight="bold" text-anchor="middle" >500</text>
<text x="1107.5" y="1431.5" class="ss" font-size="66" font-weight="bold" text-anchor="middle">Temperature (<tspan font-size="59" dy="-11" dx="-2">°</tspan><tspan dy="11" dx="-1">C)</tspan></text>
<text transform="translate(127.3,627) rotate(-90)" class="ss" font-size="66.4" font-weight="bold" text-anchor="middle">Storage modulus (MPa)</text>
<line x1="534.3" y1="774.9" x2="663.3" y2="774.9" stroke="#000" stroke-width="5" />
<use href="#gm1a" x="598.3" y="774.9"/>
<text x="680.3" y="794" class="ss" font-size="60" font-weight="bold" text-anchor="start" >PI-1</text>
<line x1="534.3" y1="851" x2="663.3" y2="851" stroke="#000" stroke-width="6" />
<use href="#gm2a" x="598.3" y="851"/>
<text x="680.3" y="870.1" class="ss" font-size="60" font-weight="bold" text-anchor="start" >PI-2</text>
<line x1="534.3" y1="927.7" x2="663.3" y2="927.7" stroke="#000" stroke-width="5" />
<use href="#gm3a" x="598.3" y="927.7"/>
<text x="680.3" y="946.8" class="ss" font-size="60" font-weight="bold" text-anchor="start" >PI-3</text>
<line x1="534.3" y1="1002.3" x2="663.3" y2="1002.3" stroke="#999" stroke-width="1.6" />
<use href="#gm4a" x="598.3" y="1002.3"/>
<text x="680.3" y="1021.4" class="ss" font-size="60" font-weight="bold" text-anchor="start" >PI-4</text>
<line x1="534.3" y1="1080.6" x2="663.3" y2="1080.6" stroke="#000" stroke-width="6" />
<use href="#gm5a" x="598.3" y="1080.6"/>
<text x="680.3" y="1099.7" class="ss" font-size="60" font-weight="bold" text-anchor="start" >PI-5</text>
<text x="1030" y="1547" class="sf" font-size="84" text-anchor="middle">(<tspan font-weight="bold">a</tspan>)</text>
<clipPath id="cb"><rect x="307.8" y="1625" width="1628.2" height="1215.1999999999998"/></clipPath>
<g clip-path="url(#cb)">
<polyline points="308,2065 315.2,2062.5 322.4,2060 329.6,2057.5 336.8,2055.1 344,2052.7 351.2,2050.3 358.4,2048 365.6,2045.7 372.8,2043.4 380,2041.2 387.2,2039.1 394.4,2037 401.6,2034.9 408.8,2032.9 416,2030.9 423.2,2028.8 430.4,2026.7 437.6,2024.5 444.8,2022.3 452,2020.1 459.2,2018 466.4,2015.9 473.6,2013.9 480.8,2012.1 488,2010.4 495.2,2008.8 502.4,2007.5 509.6,2006.4 516.8,2005.6 524,2005 531.2,2004.6 538.4,2004.2 545.6,2003.9 552.8,2003.6 560,2003.3 567.2,2003.1 574.4,2003 581.6,2003 588.8,2003.2 596,2003.7 603.2,2004.5 610.4,2005.4 617.6,2006.5 624.8,2007.8 632,2009.2 639.2,2010.8 646.4,2013.3 653.6,2016.7 660.8,2020.8 668,2025.3 675.2,2030 682.4,2034.5 689.6,2038.7 696.8,2042.5 704,2046.2 711.2,2050 718.4,2053.6 725.6,2057.3 732.8,2060.8 740,2064.3 747.2,2067.6 754.4,2070.9 761.6,2074.1 768.8,2077.2 776,2080.3 783.2,2083.3 790.4,2086.1 797.6,2088.8 804.8,2091.3 812,2093.8 819.2,2096.3 826.4,2098.8 833.6,2101.1 840.8,2103.2 848,2105 855.2,2106.4 862.4,2107.2 869.6,2108 876.8,2108.6 884,2109.2 891.2,2109.6 898.4,2109.9 905.6,2110 912.8,2110 920,2110 927.2,2110 934.4,2110 941.6,2110 948.8,2110 956,2110 963.2,2110 970.4,2109.3 977.6,2107.8 984.8,2105.6 992,2103.1 999.2,2100.3 1006.4,2097.1 1013.6,2092.7 1020.8,2087.4 1028,2081.4 1035.2,2074.7 1042.4,2067.5 1049.6,2058.8 1056.8,2046.1 1068,2010 1076,1985 1083.4,1959.4 1084.5,1933 1085.5,1907.5 1099.3,1876 1105.3,1869 1112.4,1880.7 1114,1913.7 1117,1940.7 1122,1975 1128,2010 1135,2050 1145.5,2095 1152,2130 1160.6,2169 1169,2208.6 1173,2248 1181.5,2276 1187,2307 1195.5,2338 1201,2366 1209.5,2391 1215,2413.5 1223.5,2436 1229,2455.5 1237.5,2475 1243,2494.7 1251.5,2511.5 1257,2528 1265.5,2545 1271,2559 1279.5,2573 1292.2,2580.9 1299.4,2579.7 1306.6,2578.6 1313.8,2579.7 1321,2582.7 1328.2,2586.2 1335.4,2591.1 1342.6,2596.2 1349.8,2602.5 1357,2606.5 1364.2,2605.5 1371.4,2602.6 1378.6,2599.5 1385.8,2598 1393,2600.3 1400.2,2603.7 1407.4,2604 1414.6,2604 1421.8,2604 1429,2604.4 1436.2,2605.1 1443.4,2606 1450.6,2607.2 1457.8,2608.4 1465,2609.8 1472.2,2611.1 1479.4,2612.4 1486.6,2613.5 1493.8,2614.4 1501,2615.1 1508.2,2615.6 1515.4,2616.1 1522.6,2616.7 1529.8,2617.2 1537,2617.6 1544.2,2618.1 1551.4,2618.5 1558.6,2618.9 1565.8,2619.2 1573,2619.5 1580.2,2619.7 1587.4,2619.9 1594.6,2620 1601.8,2620 1609,2619.8 1616.2,2619.5 1623.4,2618.9 1630.6,2618.2 1637.8,2617.4 1645,2616.4 1652.2,2615.3 1659.4,2614.1 1666.6,2612.8 1673.8,2611.4 1681,2610 1688.2,2608.5 1695.4,2607 1702.6,2605.4 1709.8,2603.3 1717,2600.6 1724.2,2597.4 1731.4,2593.9 1738.6,2590.2 1745.8,2586.4 1753,2582.6 1760.2,2579 1767.4,2575.6 1774.6,2572.6 1781.8,2570.1 1789,2568.2 1796.2,2566.8 1803.4,2565.6 1810.6,2564.5 1817.8,2563.4 1825,2562.5 1832.2,2561.7 1839.4,2560.9 1846.6,2560.3 1853.8,2559.7 1861,2559.1 1868.2,2558.6 1875.4,2558.1 1882.6,2557.6 1889.8,2557.1 1897,2556.8 1904.2,2556.4 1911.4,2556.2 1920,2556" fill="none" stroke="#000" stroke-width="3.2" stroke-linejoin="round" marker-start="url(#m1b)" marker-mid="url(#m1b)" marker-end="url(#m1b)"/>
<polyline points="308,2040 315.2,2037.9 322.4,2035.8 329.6,2033.7 336.8,2031.7 344,2029.6 351.2,2027.5 358.4,2025.4 365.6,2023.4 372.8,2021.3 380,2019.2 387.2,2017.1 394.4,2015.1 401.6,2013 408.8,2010.9 416,2008.8 423.2,2006.6 430.4,2004.2 437.6,2001.8 444.8,1999.2 452,1996.7 459.2,1994.2 466.4,1991.7 473.6,1989.3 480.8,1987 488,1984.9 495.2,1983 502.4,1981.3 509.6,1979.9 516.8,1978.8 524,1978 531.2,1977.4 538.4,1976.8 545.6,1976.3 552.8,1975.9 560,1975.5 567.2,1975.2 574.4,1975 581.6,1975 588.8,1975.4 596,1976.2 603.2,1977.3 610.4,1978.8 617.6,1980.4 624.8,1982.2 632,1984 639.2,1985.8 646.4,1988.1 653.6,1990.8 660.8,1993.7 668,1996.9 675.2,2000.3 682.4,2003.6 689.6,2006.9 696.8,2010.2 704,2013.5 711.2,2017 718.4,2020.6 725.6,2024.1 732.8,2027.7 740,2031.2 747.2,2034.6 754.4,2038 761.6,2041.4 768.8,2044.8 776,2048.1 783.2,2051.4 790.4,2054.5 797.6,2057.5 804.8,2060.3 812,2063 819.2,2065.7 826.4,2068.3 833.6,2070.7 840.8,2073 848,2075.1 855.2,2076.9 862.4,2078.5 869.6,2080 876.8,2081.5 884,2082.8 891.2,2084 898.4,2084.7 905.6,2085 912.8,2084.8 920,2084.1 927.2,2083.1 934.4,2081.7 941.6,2080.1 948.8,2078.4 956,2076.5 963.2,2074.7 970.4,2072.4 977.6,2069.7 984.8,2066.5 992,2063 999.2,2059.4 1006.4,2055.7 1013.6,2052.1 1020.8,2048.7 1028,2045.2 1035.2,2041.8 1042.4,2038.2 1049.6,2034.6 1056.8,2031 1064,2027.3 1071.2,2023.5 1078.4,2019.7 1085.6,2015.9 1092.8,2012.1 1100,2008.2 1107.2,2004.2 1114.4,2000.1 1121.6,1995.6 1128.8,1990.8 1136,1985.7 1143.2,1980.3 1150.4,1974.5 1157.6,1968.4 1164.8,1961.9 1172,1954.9 1179.2,1947.5 1186.4,1939.5 1193.6,1928.2 1200.8,1914.3 1208,1902.7 1215.2,1898 1222.4,1908.6 1229.6,1932.2 1236.8,1969.6 1244,2013.5 1253,2077 1264,2138.6 1272.5,2186 1281,2231 1290.7,2265 1299,2299 1307.5,2329.5 1316,2357.5 1324,2383 1332.6,2405 1341,2427.5 1349.4,2447 1357.8,2466.7 1366,2486 1374.6,2506 1383,2522.6 1391.4,2539.4 1399.8,2553.4 1411,2567.4 1422,2578.6 1436,2590 1447.2,2599.7 1454.4,2604.4 1461.6,2608.3 1468.8,2611.9 1476,2615.3 1483.2,2618.2 1490.4,2620.7 1497.6,2622.7 1504.8,2624 1512,2625.1 1519.2,2626.1 1526.4,2627 1533.6,2627.8 1540.8,2628.4 1548,2628.8 1555.2,2629 1562.4,2628.8 1569.6,2628 1576.8,2626.7 1584,2625.1 1591.2,2623.3 1598.4,2621.4 1605.6,2619.5 1612.8,2617.8 1620,2615.8 1627.2,2613.6 1634.4,2611.3 1641.6,2608.9 1648.8,2606.6 1656,2604.4 1663.2,2602.4 1670.4,2600.5 1677.6,2598.8 1684.8,2597 1692,2595.3 1699.2,2593.6 1706.4,2591.8 1713.6,2590 1720.8,2588 1728,2586 1735.2,2583.9 1742.4,2581.7 1749.6,2579.6 1756.8,2577.5 1764,2575.5 1771.2,2573.5 1778.4,2571.7 1785.6,2569.9 1792.8,2568.1 1800,2566.2 1807.2,2564.2 1814.4,2562.1 1821.6,2559.8 1828.8,2557.3 1836,2554.5 1843.2,2551.6 1850.4,2548.6 1857.6,2545.5 1864.8,2542.3 1872,2539.1 1879.2,2535.8 1886.4,2532.3 1893.6,2528.7 1900.8,2525.1 1908,2521.4 1915.2,2517.6 1922,2514" fill="none" stroke="#000" stroke-width="4.2" stroke-linejoin="round" marker-start="url(#m2b)" marker-mid="url(#m2b)" marker-end="url(#m2b)"/>
<polyline points="308,2022 315.2,2020.2 322.4,2018.3 329.6,2016.5 336.8,2014.6 344,2012.7 351.2,2010.8 358.4,2008.9 365.6,2006.9 372.8,2004.9 380,2003 387.2,2001 394.4,1999 401.6,1996.9 408.8,1994.9 416,1992.8 423.2,1990.5 430.4,1988.1 437.6,1985.5 444.8,1982.9 452,1980.1 459.2,1977.4 466.4,1974.8 473.6,1972.2 480.8,1969.7 488,1967.4 495.2,1965.4 502.4,1963.5 509.6,1962 516.8,1960.8 524,1960 531.2,1959.4 538.4,1958.8 545.6,1958.3 552.8,1957.9 560,1957.5 567.2,1957.2 574.4,1957 581.6,1957 588.8,1957.5 596,1958.6 603.2,1960.2 610.4,1962.1 617.6,1964.3 624.8,1966.5 632,1968.8 639.2,1971 646.4,1973.4 653.6,1976.1 660.8,1979 668,1982.1 675.2,1985.3 682.4,1988.6 689.6,1991.9 696.8,1995.2 704,1998.8 711.2,2002.5 718.4,2006.3 725.6,2010.2 732.8,2014 740,2017.9 747.2,2021.6 754.4,2025.3 761.6,2029.1 768.8,2032.9 776,2036.6 783.2,2040.3 790.4,2043.9 797.6,2047.2 804.8,2050.3 812,2053.3 819.2,2056.3 826.4,2059.2 833.6,2061.9 840.8,2064.4 848,2066.8 855.2,2068.8 862.4,2070.6 869.6,2072.3 876.8,2074 884,2075.5 891.2,2076.8 898.4,2077.7 905.6,2078 912.8,2077.7 920,2076.7 927.2,2075.2 934.4,2073.3 941.6,2071.2 948.8,2069 956,2066.7 963.2,2064.7 970.4,2062.4 977.6,2059.9 984.8,2057.3 992,2054.6 999.2,2051.9 1006.4,2049.4 1013.6,2047.2 1020.8,2045.3 1028,2043.7 1035.2,2042.3 1042.4,2041.1 1049.6,2039.8 1056.8,2038.5 1064,2037.2 1071.2,2035.6 1078.4,2033.9 1085.6,2032.1 1092.8,2030.1 1100,2028.1 1107.2,2025.9 1114.4,2023.5 1121.6,2021.1 1128.8,2018.5 1136,2015.7 1143.2,2012.8 1150.4,2009.7 1157.6,2006.4 1164.8,2002.8 1172,1998.8 1179.2,1994.5 1186.4,1989.7 1193.6,1983.8 1200.8,1976.5 1208,1968.6 1215.2,1960.7 1222.4,1953.1 1229.6,1945.3 1236.8,1936.4 1244,1925.6 1251.2,1910.3 1258.4,1895.2 1265.6,1881.1 1272.8,1870.8 1280,1872.8 1287.2,1884.1 1294.4,1905.7 1301.6,1951.3 1308.8,2027.5 1316,2088.4 1323.2,2149.1 1330.4,2204.3 1337.6,2262 1344.8,2305.8 1352,2334.9 1359.2,2363.8 1366.4,2387.3 1373.6,2406 1380.8,2419.3 1388,2436.8 1395.2,2461.3 1402.4,2478 1409.6,2492.8 1416.8,2506.4 1424,2519.3 1431.2,2530.6 1438.4,2540.6 1445.6,2549.9 1452.8,2558.7 1460,2565.9 1467.2,2571.8 1474.4,2574.5 1481.6,2576.5 1488.8,2578 1496,2579.2 1503.2,2579.9 1510.4,2580.4 1517.6,2580.8 1524.8,2581.2 1532,2581.5 1539.2,2581.7 1546.4,2581.9 1553.6,2582 1560.8,2581.9 1568,2581.3 1575.2,2580.2 1582.4,2578.8 1589.6,2577.1 1596.8,2575.2 1604,2573.3 1611.2,2571.4 1618.4,2569.2 1625.6,2566.7 1632.8,2563.8 1640,2560.9 1647.2,2557.8 1654.4,2554.7 1661.6,2551.8 1668.8,2548.7 1676,2545.6 1683.2,2542.3 1690.4,2539.1 1697.6,2536 1704.8,2533.1 1712,2530.5 1719.2,2528.1 1726.4,2525.9 1733.6,2523.7 1740.8,2521.6 1748,2519.7 1755.2,2518 1762.4,2516.6 1769.6,2515.4 1776.8,2514.5 1784,2513.7 1791.2,2513 1798.4,2512.3 1805.6,2511.6 1812.8,2510.7 1820,2509.7 1827.2,2508.7 1834.4,2507.4 1841.6,2505.7 1848.8,2502.4 1856,2495.7 1863.2,2487.4 1870.4,2479.6 1877.6,2472.7 1884.8,2465.9 1892,2459 1899.2,2452.3 1906.4,2445.7 1913.6,2439.1 1917,2436" fill="none" stroke="#000" stroke-width="3.4" stroke-linejoin="round" marker-start="url(#m3b)" marker-mid="url(#m3b)" marker-end="url(#m3b)"/>
<polyline points="308,2002 315.2,2000.5 322.4,1999 329.6,1997.5 336.8,1995.9 344,1994.3 351.2,1992.6 358.4,1990.9 365.6,1989.1 372.8,1987.3 380,1985.5 387.2,1983.7 394.4,1981.8 401.6,1979.8 408.8,1977.9 416,1975.8 423.2,1973.5 430.4,1971 437.6,1968.3 444.8,1965.4 452,1962.5 459.2,1959.5 466.4,1956.5 473.6,1953.7 480.8,1951 488,1948.4 495.2,1946.1 502.4,1944.1 509.6,1942.5 516.8,1941.3 524,1940.5 531.2,1940 538.4,1939.5 545.6,1939.1 552.8,1938.7 560,1938.4 567.2,1938.2 574.4,1938 581.6,1938 588.8,1938.7 596,1940.2 603.2,1942.2 610.4,1944.7 617.6,1947.5 624.8,1950.3 632,1953.1 639.2,1955.6 646.4,1958.2 653.6,1960.8 660.8,1963.6 668,1966.5 675.2,1969.5 682.4,1972.6 689.6,1975.9 696.8,1979.3 704,1983 711.2,1986.9 718.4,1991 725.6,1995.2 732.8,1999.4 740,2003.5 747.2,2007.6 754.4,2011.5 761.6,2015.6 768.8,2019.6 776,2023.6 783.2,2027.6 790.4,2031.4 797.6,2035 804.8,2038.4 812,2041.7 819.2,2045.1 826.4,2048.4 833.6,2051.5 840.8,2054.4 848,2056.9 855.2,2058.9 862.4,2060.5 869.6,2061.8 876.8,2063.1 884,2064.3 891.2,2065.2 898.4,2065.8 905.6,2066 912.8,2065.6 920,2064.4 927.2,2062.6 934.4,2060.3 941.6,2057.7 948.8,2054.9 956,2052.2 963.2,2049.6 970.4,2046.9 977.6,2044 984.8,2040.8 992,2037.5 999.2,2034.1 1006.4,2030.7 1013.6,2027.1 1020.8,2023.6 1028,2020 1035.2,2016.3 1042.4,2012.5 1049.6,2008.6 1056.8,2004.6 1064,2000.6 1071.2,1996.6 1078.4,1992.5 1085.6,1988.6 1092.8,1984.6 1100,1980.5 1107.2,1976.2 1114.4,1971.7 1121.6,1966.9 1128.8,1961.5 1136,1955.6 1143.2,1949.6 1150.4,1943.7 1157.6,1938 1164.8,1932.4 1172,1926.7 1179.2,1920.7 1186.4,1914 1193.6,1906.8 1200.8,1900 1208,1894.6 1215.2,1889.3 1222.4,1885.2 1229.6,1884.1 1236.8,1886.2 1244,1890.5 1251.2,1896.1 1258.4,1906.5 1265.6,1919.6 1272.8,1934.2 1280,1950 1287.2,1965.3 1294.4,1982.1 1301.6,2003.6 1308.8,2031.7 1316,2064.3 1323.2,2097.5 1330.4,2126.5 1337.6,2157.2 1344.8,2190.8 1352,2227.9 1359.2,2263.3 1366.4,2293.9 1373.6,2318.2 1380.8,2337.2 1388,2360.3 1395.2,2382.7 1402.4,2401.5 1409.6,2416.2 1416.8,2431.8 1424,2447.8 1431.2,2460.1 1438.4,2473.9 1445.6,2488.3 1452.8,2501.7 1460,2511.5 1467.2,2520.2 1474.4,2529.2 1481.6,2537.7 1488.8,2545.3 1496,2552.6 1503.2,2557.5 1510.4,2559.6 1517.6,2561.4 1524.8,2562.9 1532,2564.1 1539.2,2565 1546.4,2565.7 1553.6,2566 1560.8,2565.9 1568,2565.1 1575.2,2563.6 1582.4,2561.7 1589.6,2559.5 1596.8,2557.1 1604,2554.6 1611.2,2552.3 1618.4,2549.6 1625.6,2546.5 1632.8,2543.2 1640,2539.7 1647.2,2536.3 1654.4,2532.9 1661.6,2529.7 1668.8,2526.8 1676,2523.8 1683.2,2520.9 1690.4,2518.1 1697.6,2515.2 1704.8,2512.4 1712,2509.6 1719.2,2506.7 1726.4,2503.8 1733.6,2500.8 1740.8,2497.9 1748,2495 1755.2,2492.4 1762.4,2490 1769.6,2487.8 1776.8,2485.5 1784,2483.2 1791.2,2481.2 1798.4,2479.8 1805.6,2479 1812.8,2479.4 1820,2480.9 1827.2,2482.9 1834.4,2484.8 1841.6,2485.9 1848.8,2486 1856,2486 1863.2,2486 1870.4,2486 1877.6,2486 1884.8,2485.5 1892,2483.3 1899.2,2479.7 1906.4,2475 1913.6,2469.6 1917,2467" fill="none" stroke="#555" stroke-width="1.6" stroke-linejoin="round" marker-start="url(#m4b)" marker-mid="url(#m4b)" marker-end="url(#m4b)"/>
<polyline points="305.6,2072 312.8,2070.5 320,2068.8 327.2,2067 334.4,2065.1 341.6,2063 348.8,2060.9 356,2058.6 363.2,2056.1 370.4,2053.3 377.6,2050.2 384.8,2047.1 392,2043.9 399.2,2040.9 406.4,2038 413.6,2035.5 420.8,2033.1 428,2030.7 435.2,2028.5 442.4,2026.4 449.6,2024.3 456.8,2022.3 464,2020.5 471.2,2018.7 478.4,2016.9 485.6,2015.1 492.8,2013.3 500,2011.7 507.2,2010.2 514.4,2009.1 521.6,2008.2 528.8,2007.7 536,2007.2 543.2,2006.7 550.4,2006.3 557.6,2006 564.8,2005.7 572,2005.6 579.2,2005.5 586.4,2005.6 593.6,2006 600.8,2006.5 608,2007.3 615.2,2008.1 622.4,2009.1 629.6,2010.1 636.8,2011.1 644,2012.4 651.2,2014.1 658.4,2015.8 665.6,2017.3 672.8,2018.6 680,2019.7 687.2,2021 694.4,2022.5 701.6,2024.3 708.8,2026.3 716,2028.4 723.2,2030.7 730.4,2033 737.6,2035.4 744.8,2037.9 752,2040.4 759.2,2043.1 766.4,2046 773.6,2049 780.8,2052 788,2055 795.2,2057.8 802.4,2060.4 809.6,2062.9 816.8,2065.4 824,2067.9 831.2,2070.3 838.4,2072.5 845.6,2074.6 852.8,2076.4 860,2078 867.2,2079.5 874.4,2080.9 881.6,2082.3 888.8,2083.3 896,2083.9 903.2,2084 910.4,2084 917.6,2084 924.8,2084 932,2084 939.2,2084 946.4,2084 953.6,2084 960.8,2084 968,2083.8 975.2,2083.3 982.4,2082.6 989.6,2081.7 996.8,2080.7 1004,2079.7 1011.2,2078.8 1018.4,2078 1025.6,2077.2 1032.8,2076.5 1040,2075.8 1047.2,2075.1 1054.4,2074.4 1061.6,2073.6 1068.8,2072.7 1076,2071.7 1083.2,2070.6 1090.4,2069.4 1097.6,2068.1 1104.8,2066.6 1112,2065 1119.2,2063.1 1126.4,2061.1 1133.6,2058.8 1140.8,2055.7 1148,2052 1155.2,2047.7 1162.4,2043 1169.6,2037.3 1176.8,2030.4 1184,2023.1 1191.2,2015.8 1198.4,2008.6 1205.6,2001.2 1212.8,1993.7 1220,1986 1227.2,1978.2 1234.4,1970.2 1241.6,1962.1 1248.8,1954.1 1256,1946.1 1263.2,1938 1270.4,1930.1 1277.6,1922.3 1284.8,1914.6 1292,1907.1 1299.2,1899.8 1306.4,1892.4 1313.6,1885 1320.8,1878.7 1328,1874.5 1335.2,1870.7 1346,1868 1357,1876 1365.5,1895.6 1371,1926 1376.7,1977 1388,2041 1395.5,2098.5 1407,2180.6 1418,2247.7 1427.8,2304.4 1439,2374 1450,2486 1450,2486" fill="none" stroke="#000" stroke-width="3.8" stroke-linejoin="round" marker-start="url(#m5b)" marker-mid="url(#m5b)" marker-end="url(#m5b)"/>
</g>
<path d="M307.8,1623.1V2842.7" stroke="#000" stroke-width="5" fill="none"/>
<path d="M1936,1623.1V2842.7" stroke="#000" stroke-width="5" fill="none"/>
<path d="M305.3,1625H1938.5" stroke="#000" stroke-width="3.8" fill="none"/>
<path d="M305.3,2840.2H1938.5" stroke="#000" stroke-width="5" fill="none"/>
<line x1="282.8" y1="1710.1" x2="307.8" y2="1710.1" stroke="#000" stroke-width="3.4" />
<text x="268.5" y="1732.6" class="ss" font-size="60" font-weight="bold" text-anchor="end">10<tspan font-size="35" dy="-35.5" dx="2">3</tspan></text>
<line x1="282.8" y1="1992.6" x2="307.8" y2="1992.6" stroke="#000" stroke-width="3.4" />
<text x="268.5" y="2015.1" class="ss" font-size="60" font-weight="bold" text-anchor="end">10<tspan font-size="35" dy="-35.5" dx="2">2</tspan></text>
<line x1="282.8" y1="2275.1" x2="307.8" y2="2275.1" stroke="#000" stroke-width="3.4" />
<text x="268.5" y="2297.6" class="ss" font-size="60" font-weight="bold" text-anchor="end">10<tspan font-size="35" dy="-35.5" dx="2">1</tspan></text>
<line x1="282.8" y1="2557.6" x2="307.8" y2="2557.6" stroke="#000" stroke-width="3.4" />
<text x="268.5" y="2580.1" class="ss" font-size="60" font-weight="bold" text-anchor="end">10<tspan font-size="35" dy="-35.5" dx="2">0</tspan></text>
<line x1="282.8" y1="2840.1" x2="307.8" y2="2840.1" stroke="#000" stroke-width="3.4" />
<text x="268.5" y="2862.6" class="ss" font-size="60" font-weight="bold" text-anchor="end">10<tspan font-size="35" dy="-35.5" dx="2">-1</tspan></text>
<line x1="294.8" y1="1625.1" x2="307.8" y2="1625.1" stroke="#000" stroke-width="3.4" />
<line x1="294.8" y1="1907.6" x2="307.8" y2="1907.6" stroke="#000" stroke-width="3.4" />
<line x1="294.8" y1="1857.8" x2="307.8" y2="1857.8" stroke="#000" stroke-width="3.4" />
<line x1="294.8" y1="1822.5" x2="307.8" y2="1822.5" stroke="#000" stroke-width="3.4" />
<line x1="294.8" y1="1795.1" x2="307.8" y2="1795.1" stroke="#000" stroke-width="3.4" />
<line x1="294.8" y1="1772.8" x2="307.8" y2="1772.8" stroke="#000" stroke-width="3.4" />
<line x1="294.8" y1="1753.9" x2="307.8" y2="1753.9" stroke="#000" stroke-width="3.4" />
<line x1="294.8" y1="1737.5" x2="307.8" y2="1737.5" stroke="#000" stroke-width="3.4" />
<line x1="294.8" y1="1723" x2="307.8" y2="1723" stroke="#000" stroke-width="3.4" />
<line x1="294.8" y1="2190.1" x2="307.8" y2="2190.1" stroke="#000" stroke-width="3.4" />
<line x1="294.8" y1="2140.3" x2="307.8" y2="2140.3" stroke="#000" stroke-width="3.4" />
<line x1="294.8" y1="2105" x2="307.8" y2="2105" stroke="#000" stroke-width="3.4" />
<line x1="294.8" y1="2077.6" x2="307.8" y2="2077.6" stroke="#000" stroke-width="3.4" />
<line x1="294.8" y1="2055.3" x2="307.8" y2="2055.3" stroke="#000" stroke-width="3.4" />
<line x1="294.8" y1="2036.4" x2="307.8" y2="2036.4" stroke="#000" stroke-width="3.4" />
<line x1="294.8" y1="2020" x2="307.8" y2="2020" stroke="#000" stroke-width="3.4" />
<line x1="294.8" y1="2005.5" x2="307.8" y2="2005.5" stroke="#000" stroke-width="3.4" />
<line x1="294.8" y1="2472.6" x2="307.8" y2="2472.6" stroke="#000" stroke-width="3.4" />
<line x1="294.8" y1="2422.8" x2="307.8" y2="2422.8" stroke="#000" stroke-width="3.4" />
<line x1="294.8" y1="2387.5" x2="307.8" y2="2387.5" stroke="#000" stroke-width="3.4" />
<line x1="294.8" y1="2360.1" x2="307.8" y2="2360.1" stroke="#000" stroke-width="3.4" />
<line x1="294.8" y1="2337.8" x2="307.8" y2="2337.8" stroke="#000" stroke-width="3.4" />
<line x1="294.8" y1="2318.9" x2="307.8" y2="2318.9" stroke="#000" stroke-width="3.4" />
<line x1="294.8" y1="2302.5" x2="307.8" y2="2302.5" stroke="#000" stroke-width="3.4" />
<line x1="294.8" y1="2288" x2="307.8" y2="2288" stroke="#000" stroke-width="3.4" />
<line x1="294.8" y1="2755.1" x2="307.8" y2="2755.1" stroke="#000" stroke-width="3.4" />
<line x1="294.8" y1="2705.3" x2="307.8" y2="2705.3" stroke="#000" stroke-width="3.4" />
<line x1="294.8" y1="2670" x2="307.8" y2="2670" stroke="#000" stroke-width="3.4" />
<line x1="294.8" y1="2642.6" x2="307.8" y2="2642.6" stroke="#000" stroke-width="3.4" />
<line x1="294.8" y1="2620.3" x2="307.8" y2="2620.3" stroke="#000" stroke-width="3.4" />
<line x1="294.8" y1="2601.4" x2="307.8" y2="2601.4" stroke="#000" stroke-width="3.4" />
<line x1="294.8" y1="2585" x2="307.8" y2="2585" stroke="#000" stroke-width="3.4" />
<line x1="294.8" y1="2570.5" x2="307.8" y2="2570.5" stroke="#000" stroke-width="3.4" />
<line x1="307.8" y1="2840.2" x2="307.8" y2="2852.7" stroke="#000" stroke-width="3.4" />
<line x1="488.7" y1="2840.2" x2="488.7" y2="2865.2" stroke="#000" stroke-width="3.4" />
<text x="488.7" y="2928.7" class="ss" font-size="60.5" font-weight="bold" text-anchor="middle" >100</text>
<line x1="669.6" y1="2840.2" x2="669.6" y2="2852.7" stroke="#000" stroke-width="3.4" />
<line x1="850.5" y1="2840.2" x2="850.5" y2="2865.2" stroke="#000" stroke-width="3.4" />
<text x="850.5" y="2928.7" class="ss" font-size="60.5" font-weight="bold" text-anchor="middle" >200</text>
<line x1="1031.4" y1="2840.2" x2="1031.4" y2="2852.7" stroke="#000" stroke-width="3.4" />
<line x1="1212.4" y1="2840.2" x2="1212.4" y2="2865.2" stroke="#000" stroke-width="3.4" />
<text x="1212.4" y="2928.7" class="ss" font-size="60.5" font-weight="bold" text-anchor="middle" >300</text>
<line x1="1393.3" y1="2840.2" x2="1393.3" y2="2852.7" stroke="#000" stroke-width="3.4" />
<line x1="1574.2" y1="2840.2" x2="1574.2" y2="2865.2" stroke="#000" stroke-width="3.4" />
<text x="1574.2" y="2928.7" class="ss" font-size="60.5" font-weight="bold" text-anchor="middle" >400</text>
<line x1="1755.1" y1="2840.2" x2="1755.1" y2="2852.7" stroke="#000" stroke-width="3.4" />
<line x1="1936" y1="2840.2" x2="1936" y2="2865.2" stroke="#000" stroke-width="3.4" />
<text x="1936" y="2928.7" class="ss" font-size="60.5" font-weight="bold" text-anchor="middle" >500</text>
<text x="1093" y="3034" class="ss" font-size="67" font-weight="bold" text-anchor="middle">Temperature (<tspan font-size="60" dy="-11" dx="-2">°</tspan><tspan dy="11" dx="-1">C)</tspan></text>
<text transform="translate(119.5,2220) rotate(-90)" class="ss" font-size="68.5" font-weight="bold" text-anchor="middle">Loss modulus (MPa)</text>
<line x1="504.3" y1="2365.7" x2="637.1" y2="2365.7" stroke="#000" stroke-width="5" />
<use href="#gm1b" x="570.9" y="2365.7"/>
<text x="654" y="2386.1" class="ss" font-size="64" font-weight="bold" text-anchor="start" >PI-1</text>
<line x1="504.3" y1="2449.7" x2="637.1" y2="2449.7" stroke="#000" stroke-width="6" />
<use href="#gm2b" x="570.9" y="2449.7"/>
<text x="654" y="2470.1" class="ss" font-size="64" font-weight="bold" text-anchor="start" >PI-2</text>
<line x1="504.3" y1="2534.7" x2="637.1" y2="2534.7" stroke="#000" stroke-width="5.5" />
<use href="#gm3b" x="570.9" y="2534.7"/>
<text x="654" y="2555.1" class="ss" font-size="64" font-weight="bold" text-anchor="start" >PI-3</text>
<line x1="504.3" y1="2617.2" x2="637.1" y2="2617.2" stroke="#000" stroke-width="2.2" />
<use href="#gm4b" x="570.9" y="2617.2"/>
<text x="654" y="2637.6" class="ss" font-size="64" font-weight="bold" text-anchor="start" >PI-4</text>
<line x1="504.3" y1="2701.2" x2="637.1" y2="2701.2" stroke="#000" stroke-width="6" />
<use href="#gm5b" x="570.9" y="2701.2"/>
<text x="654" y="2721.6" class="ss" font-size="64" font-weight="bold" text-anchor="start" >PI-5</text>
<text x="1030" y="3159" class="sf" font-size="84" text-anchor="middle">(<tspan font-weight="bold">b</tspan>)</text>
<text x="1092.4" y="1833.5" class="ss" font-size="54.5" font-weight="bold" text-anchor="middle" >270.4</text>
<text x="1192.7" y="1781.2" class="ss" font-size="54.5" font-weight="bold" text-anchor="middle" >300.9</text>
<text x="1354" y="1751.8" class="ss" font-size="54.5" font-weight="bold" text-anchor="middle" >304.4</text>
<text x="1513.5" y="1804" class="ss" font-size="54.5" font-weight="bold" text-anchor="middle" >315.5</text>
<text x="1581.8" y="1909.9" class="ss" font-size="54.5" font-weight="bold" text-anchor="middle" >335.6</text>
<line x1="1207.7" y1="1808.6" x2="1216" y2="1859.2" stroke="#000" stroke-width="2" stroke-dasharray="7 5"/>
<polygon points="1218.8,1876 1208.6,1854.4 1221.5,1852.2" fill="#000"/>
<line x1="1316.7" y1="1784.5" x2="1259.8" y2="1844" stroke="#000" stroke-width="2" />
<polygon points="1248,1856.3 1259.2,1835.2 1268.6,1844.2" fill="#000"/>
<line x1="1431" y1="1797.5" x2="1303" y2="1851" stroke="#000" stroke-width="2" stroke-dasharray="3 3"/>
<polygon points="1287.3,1857.6 1306,1842.7 1311,1854.7" fill="#000"/>
<line x1="1501.5" y1="1889" x2="1388.9" y2="1869" stroke="#000" stroke-width="2" stroke-dasharray="9 6"/>
<polygon points="1372.2,1866 1396,1863.6 1393.7,1876.4" fill="#000"/>
<clipPath id="cc"><rect x="279" y="3273.6" width="1683.9" height="1251.4"/></clipPath>
<g clip-path="url(#cc)">
<polyline points="279,4401 286.6,4401 294.2,4401 301.8,4401 309.4,4401 317,4401 324.6,4400.9 332.2,4400.9 339.8,4400.9 347.4,4400.9 355,4400.8 362.6,4400.8 370.2,4400.8 377.8,4400.7 385.4,4400.7 393,4400.7 400.6,4400.6 408.2,4400.5 415.8,4400.5 423.4,4400.4 431,4400.4 438.6,4400.3 446.2,4400.2 453.8,4400.1 461.4,4400.1 469,4400 476.6,4399.9 484.2,4399.8 491.8,4399.7 499.4,4399.6 507,4399.5 514.6,4399.4 522.2,4399.2 529.8,4399.1 537.4,4399 545,4398.9 552.6,4398.7 560.2,4398.6 567.8,4398.4 575.4,4398.3 583,4398.1 590.6,4398 598.2,4397.8 605.8,4397.6 613.4,4397.4 621,4397.3 628.6,4397.1 636.2,4396.9 643.8,4396.7 651.4,4396.5 659,4396.2 666.6,4396 674.2,4395.8 681.8,4395.6 689.4,4395.3 697,4395.1 704.6,4394.8 712.2,4394.3 719.8,4393.6 727.4,4392.8 735,4391.7 742.6,4390.4 750.2,4388.9 757.8,4387.2 765.4,4385.3 773,4383.3 780.6,4381 785.2,4379.6 789.8,4378.1 794.4,4376.3 799,4373.9 803.6,4370.9 808.2,4367.2 812.8,4363 817.4,4358.1 822,4352.4 826.6,4344.8 831.2,4333.4 835.8,4316 842,4250 846,4180 848.5,4083 851,3983 860.6,3885 869,3811 880,3771 888.6,3758 893.6,3761.5 898.2,3768.6 902.8,3780.1 907.4,3796.4 912,3814.1 916.6,3832.2 921.2,3850.8 925.8,3870 930.4,3892.7 935,3919.4 939.6,3942.8 944.2,3964.3 948.8,3981.8 953.4,3993.5 958,4003.4 962.6,4016.3 967.2,4032 971.8,4047.4 976.4,4061.6 981,4075.1 985.6,4087.9 990.2,4099.9 994.8,4111.9 999.4,4124.2 1004,4134.5 1008.6,4143.7 1013.2,4152.2 1018.7,4161.9 1024.2,4171.5 1029.7,4181.5 1035.2,4192.6 1040.7,4204.2 1046.2,4214 1051.7,4221.4 1057.2,4227.7 1062.7,4233.8 1068.2,4240.5 1073.7,4247.5 1079.2,4254.2 1084.7,4259.8 1090.2,4264.6 1095.7,4268.9 1101.2,4272.8 1106.7,4276.5 1112.2,4279.7 1117.7,4282.9 1123.2,4286.1 1128.7,4289.2 1134.2,4292.4 1139.7,4295.6 1145.2,4299.2 1150.7,4303.1 1156.2,4307 1161.7,4310.9 1167.2,4314.4 1172.7,4317.4 1178.2,4319.8 1183.7,4322.1 1189.2,4324.2 1194.7,4326.2 1200.2,4328.1 1205.7,4329.8 1211.2,4331.4 1216.7,4332.9 1222.2,4334.3 1227.7,4335.5 1233.2,4336.6 1238.7,4337.7 1244.2,4338.7 1249.7,4339.7 1255.2,4340.6 1260.7,4341.5 1267.2,4342.5 1273.7,4343.4 1280.2,4344.3 1286.7,4345.1 1293.2,4345.9 1299.7,4346.7 1306.2,4347.4 1312.7,4348.1 1319.2,4348.7 1325.7,4349.4 1332.2,4349.9 1338.7,4350.5 1345.2,4351 1351.7,4351.5 1358.2,4352 1364.7,4352.5 1371.2,4353 1377.7,4353.5 1384.2,4354 1390.7,4354.4 1397.2,4354.9 1403.7,4355.4 1410.2,4355.9 1416.7,4356.4 1423.2,4356.9 1429.7,4357.4 1436.2,4357.9 1442.7,4358.3 1449.2,4358.8 1455.7,4359.3 1462.2,4359.7 1468.7,4360.2 1475.2,4360.7 1481.7,4361.1 1488.2,4361.6 1494.7,4362.1 1501.2,4362.5 1507.7,4363 1514.2,4363.4 1520.7,4363.9 1527.2,4364.4 1533.7,4364.8 1540.2,4365.3 1546.7,4365.8 1553.2,4366.3 1559.7,4366.7 1566.2,4367.2 1572.7,4367.7 1579.2,4368.2 1585.7,4368.7 1592.2,4369.2 1598.7,4369.7 1605.2,4370.1 1611.7,4370.6 1618.2,4371.1 1624.7,4371.6 1631.2,4372.1 1637.7,4372.6 1644.2,4373.1 1650.7,4373.6 1657.2,4374.1 1663.7,4374.5 1670.2,4375 1676.7,4375.5 1683.2,4375.9 1689.7,4376.4 1696.2,4376.9 1702.7,4377.3 1709.2,4377.8 1715.7,4378.2 1722.2,4378.6 1728.7,4379.1 1735.2,4379.5 1741.7,4379.9 1748.2,4380.3 1754.7,4380.7 1761.2,4381.1 1767.7,4381.5 1774.2,4381.8 1780.7,4382.2 1787.2,4382.6 1793.7,4382.9 1800.2,4383.3 1806.7,4383.7 1813.2,4384 1819.7,4384.4 1826.2,4384.7 1832.7,4385 1839.2,4385.4 1845.7,4385.7 1852.2,4386.1 1858.7,4386.4 1865.2,4386.7 1871.7,4387 1878.2,4387.3 1884.7,4387.6 1891.2,4387.9 1897.7,4388.2 1904.2,4388.5 1910.7,4388.8 1917.2,4389.1 1923.7,4389.4 1930.2,4389.7 1938,4390" fill="none" stroke="#000" stroke-width="4.2" stroke-linejoin="round" marker-start="url(#m2c)" marker-mid="url(#m2c)" marker-end="url(#m2c)"/>
<polyline points="279,4402 286.6,4402 294.2,4402 301.8,4402 309.4,4402 317,4402 324.6,4402 332.2,4402 339.8,4402 347.4,4401.9 355,4401.9 362.6,4401.9 370.2,4401.9 377.8,4401.9 385.4,4401.8 393,4401.8 400.6,4401.8 408.2,4401.7 415.8,4401.7 423.4,4401.6 431,4401.6 438.6,4401.5 446.2,4401.5 453.8,4401.4 461.4,4401.3 469,4401.3 476.6,4401.2 484.2,4401.1 491.8,4401 499.4,4400.9 507,4400.8 514.6,4400.7 522.2,4400.6 529.8,4400.5 537.4,4400.4 545,4400.3 552.6,4400.1 560.2,4400 567.8,4399 575.4,4396.7 583,4393.4 590.6,4389.7 594.9,4386.5 600,4382 607,4376 614,4369 623,4362 630,4351 635,4338 639,4318 641.5,4290 644.5,4259 650,4226 657.5,4185 664.3,4123.1 668.6,4081.1 672.9,4020.1 677.2,3957.5 681.5,3900.1 685.8,3840.2 690.1,3769.1 694.4,3707.2 698.7,3670.7 703,3642.9 707.3,3613.6 711.6,3583.7 715.9,3564.9 720.2,3556 724.5,3563 728.8,3576.3 733.1,3598.8 737.4,3626.2 741.7,3655.6 746,3688.9 750.3,3722.3 754.6,3754.6 758.9,3787 763.2,3818.9 767.5,3850.6 771.8,3881.7 776.1,3911.4 780.4,3940.2 784.7,3967.3 789,3991.8 793.3,4014.3 797.6,4036 801.9,4057.4 806.2,4077.9 810.5,4096.8 814.8,4114.4 819.1,4131.4 823.4,4149 827.7,4165.6 832,4178.6 836.3,4189.2 840.6,4198.6 844.9,4207.5 849.2,4216.8 853.5,4226.2 857.8,4235.2 862.1,4243.4 866.4,4250.9 870.7,4258.1 875,4264.8 879.3,4271 883.6,4276.4 887.9,4280.9 892.2,4285 896.5,4288.8 900.8,4292.3 905.1,4295.5 909.4,4298.5 913.7,4301.1 918,4303.5 922.3,4305.6 926.6,4307.7 930.9,4309.5 935.2,4311.1 939.5,4312.4 943.8,4313.4 948.1,4314.1 952.4,4314.7 956.7,4315.2 961,4315.6 965.3,4316 969.6,4316.5 973.9,4317.1 978.2,4317.9 982.5,4318.8 986.8,4320 991.1,4321.5 995.4,4323.2 999.7,4325.1 1004,4327.4 1008.3,4330.5 1012.6,4334.1 1016.9,4337.8 1021.2,4343.1 1025.5,4347.5 1029.8,4348 1034.1,4348 1038.4,4348 1042.7,4345 1047,4338 1051.3,4329.6 1055.6,4317.9 1059.9,4307.9 1064.2,4300 1068.5,4295.8 1072.8,4292.7 1077.1,4292.1 1081.4,4293.1 1085.7,4295.1 1090,4298.5 1094.3,4304.8 1098.6,4311.6 1102.9,4318.5 1107.2,4325.7 1111.5,4333 1115.8,4340.7 1120.1,4347.4 1124.4,4353 1128.7,4357.7 1133,4359 1137.3,4358.3 1141.6,4357 1145.9,4355.5 1150.2,4353.9 1154.1,4352.6 1158,4351.8 1161.9,4351.2 1165.8,4350.6 1169.7,4349.9 1173.6,4349.4 1177.5,4348.8 1181.4,4348.3 1185.3,4347.9 1189.2,4347.6 1193.1,4347.3 1197,4347.1 1200.9,4347 1204.8,4347.1 1208.7,4347.5 1212.6,4348.2 1216.5,4349.1 1220.4,4350.2 1224.3,4351.4 1228.2,4352.8 1232.1,4354.3 1236,4355.8 1239.9,4357.3 1243.8,4358.7 1247.7,4360.1 1251.6,4361.3 1255.5,4362.4 1259.4,4363.3 1263.3,4364.1 1267.2,4364.9 1271.1,4365.7 1275,4366.5 1278.9,4367.3 1282.8,4368.1 1286.7,4368.8 1290.6,4369.5 1294.5,4370.2 1298.4,4370.9 1302.3,4371.6 1306.2,4372.2 1310.1,4372.8 1314,4373.4 1317.9,4374 1321.8,4374.6 1325.7,4375.1 1329.6,4375.6 1333.5,4376.1 1337.4,4376.5 1341.3,4376.9 1345.2,4377.3 1349.1,4377.7 1353,4378.1 1356.9,4378.5 1360.8,4378.8 1364.7,4379.2 1368.6,4379.6 1372.5,4379.9 1376.4,4380.2 1380.3,4380.6 1384.2,4380.9 1388.1,4381.2 1392,4381.5 1395.9,4381.8 1399.8,4382.1 1403.7,4382.4 1407.6,4382.6 1411.5,4382.9 1415.4,4383.1 1419.3,4383.4 1423.2,4383.6 1427.1,4383.8 1431,4384 1434.9,4384.2 1438.8,4384.4 1442.7,4384.6 1446.6,4384.7 1450.5,4384.9 1454.4,4385 1458.3,4385.1 1462.2,4385.3 1466.1,4385.4 1470,4385.5 1473.9,4385.6 1477.8,4385.7 1481.7,4385.8 1485.6,4385.9 1489.5,4386 1493.4,4386.1 1497.3,4386.2 1501.2,4386.2 1505.1,4386.3 1509,4386.4 1512.9,4386.5 1516.8,4386.6 1520.7,4386.6 1524.6,4386.7 1528.5,4386.8 1532.4,4386.8 1536.3,4386.9 1540.2,4387 1544.1,4387 1548,4387.1 1551.9,4387.2 1555.8,4387.3 1559.7,4387.3 1563.6,4387.4 1567.5,4387.5 1571.4,4387.6 1575.3,4387.7 1579.2,4387.7 1583.1,4387.8 1587,4387.9 1590.9,4388 1594.8,4388.1 1598.7,4388.2 1602.6,4388.3 1606.5,4388.5 1610.4,4388.6 1614.3,4388.7 1618.2,4388.8 1622.1,4388.9 1626,4389 1629.9,4389.2 1633.8,4389.3 1637.7,4389.4 1641.6,4389.6 1645.5,4389.7 1649.4,4389.8 1653.3,4389.9 1657.2,4390.1 1661.1,4390.2 1665,4390.4 1668.9,4390.5 1672.8,4390.6 1676.7,4390.8 1680.6,4390.9 1684.5,4391 1688.4,4391.2 1692.3,4391.3 1696.2,4391.4 1700.1,4391.6 1704,4391.7 1707.9,4391.8 1711.8,4392 1715.7,4392.1 1719.6,4392.2 1723.5,4392.4 1727.4,4392.5 1731.3,4392.6 1735.2,4392.7 1739.1,4392.9 1743,4393 1746.9,4393.1 1750.8,4393.2 1754.7,4393.3 1758.6,4393.4 1762.5,4393.6 1766.4,4393.7 1770.3,4393.8 1774.2,4393.9 1778.1,4394 1782,4394 1785.9,4394.1 1789.8,4394.2 1793.7,4394.3 1797.6,4394.4 1801.5,4394.5 1805.4,4394.6 1809.3,4394.7 1813.2,4394.8 1817.1,4394.8 1821,4394.9 1824.9,4395 1828.8,4395.1 1832.7,4395.2 1836.6,4395.3 1840.5,4395.3 1844.4,4395.4 1848.3,4395.5 1852.2,4395.6 1856.1,4395.6 1860,4395.7 1863.9,4395.8 1867.8,4395.9 1871.7,4395.9 1875.6,4396 1879.5,4396.1 1883.4,4396.2 1887.3,4396.2 1891.2,4396.3 1895.1,4396.4 1899,4396.4 1902.9,4396.5 1906.8,4396.5 1910.7,4396.6 1914.6,4396.7 1918.5,4396.7 1922.4,4396.8 1926.3,4396.8 1930.2,4396.9 1934.1,4396.9 1938,4397" fill="none" stroke="#000" stroke-width="2.4" stroke-linejoin="round" marker-start="url(#m1c)" marker-mid="url(#m1c)" marker-end="url(#m1c)"/>
<polyline points="279,4401 286.6,4401 294.2,4401 301.8,4401 309.4,4401 317,4401 324.6,4400.9 332.2,4400.9 339.8,4400.9 347.4,4400.9 355,4400.8 362.6,4400.8 370.2,4400.8 377.8,4400.7 385.4,4400.7 393,4400.6 400.6,4400.6 408.2,4400.5 415.8,4400.4 423.4,4400.4 431,4400.3 438.6,4400.2 446.2,4400.2 453.8,4400.1 461.4,4400 469,4399.9 476.6,4399.8 484.2,4399.7 491.8,4399.6 499.4,4399.5 507,4399.4 514.6,4399.3 522.2,4399.1 529.8,4399 537.4,4398.9 545,4398.8 552.6,4398.6 560.2,4398.5 567.8,4398.3 575.4,4398.2 583,4398 590.6,4397.9 598.2,4397.7 605.8,4397.5 613.4,4397.3 621,4397.2 628.6,4397 636.2,4396.8 643.8,4396.6 651.4,4396.4 659,4396.2 666.6,4396 674.2,4395.8 681.8,4395.5 689.4,4395.3 697,4395.1 704.6,4394.8 712.2,4394.5 719.8,4394 727.4,4393.5 735,4392.8 742.6,4392 750.2,4391.1 757.8,4390 765.4,4388.8 773,4387.5 780.6,4386.1 788.2,4384.4 795.8,4382.7 803.4,4380.8 811,4378.7 818.6,4376.4 826.2,4372.9 833.8,4366.5 841.4,4358.7 845.8,4354.1 850.2,4349.8 854.6,4345.6 859,4341.3 863.4,4336.8 867.8,4332 872.2,4327.2 876.6,4322 881,4315.8 885.4,4307.3 889.8,4296 894.2,4283.7 898.6,4272.5 903,4262.9 907.4,4249.1 911.8,4212.6 916.2,4168.8 920.6,4127.3 925,4095.1 929.4,4058.8 933.8,4012.4 938.2,3952.7 942.6,3885.3 947,3826.2 951.4,3769.2 955.8,3724 960.2,3683.1 964.6,3628.2 969,3575.8 973.4,3547.6 977.8,3534.3 982.2,3528.6 986.6,3527.5 991,3530.1 995.4,3534.9 999.8,3542.4 1004.2,3559.5 1008.6,3584.9 1013,3602 1017.4,3628.5 1021.8,3655 1026.2,3680.2 1030.6,3715.8 1035,3751.1 1039.4,3779.3 1043.8,3804.2 1048.2,3825.4 1052.6,3842.5 1057,3860 1061.4,3877.6 1065.8,3895.2 1070.2,3912.7 1074.6,3929.6 1079,3946.5 1083.4,3964.2 1087.8,3984.4 1092.2,4006 1096.6,4024 1101,4038.3 1105.6,4051.5 1110.2,4064.1 1114.8,4077.1 1119.4,4090.4 1124,4103 1128.6,4114.1 1133.2,4123.6 1137.8,4132.3 1142.4,4140.2 1147,4147.8 1151.6,4155.2 1156.2,4162.5 1160.8,4169.8 1165.4,4176.6 1170,4183.1 1174.6,4188.8 1179.2,4194.1 1183.8,4199.1 1188.4,4203.8 1193,4208.2 1197.6,4212.3 1202.2,4216.3 1206.8,4220 1211.4,4223.5 1216,4226.9 1220.6,4230.1 1225.2,4233.1 1229.8,4236 1234.4,4238.7 1239,4241.4 1243.6,4244 1248.2,4246.5 1252.8,4248.9 1257.4,4251.3 1262,4253.5 1266.6,4255.7 1271.2,4257.9 1275.8,4259.9 1280.4,4261.8 1285,4263.7 1289.6,4265.5 1294.2,4267.2 1298.8,4268.8 1303.4,4270.4 1308,4272 1312.6,4273.5 1317.2,4274.9 1321.8,4276.3 1326.4,4277.7 1331,4279 1335.6,4280.3 1340.2,4281.6 1344.8,4282.8 1349.4,4284 1354,4285.2 1358.6,4286.3 1363.2,4287.4 1367.8,4288.5 1372.4,4289.6 1377,4290.6 1381.6,4291.6 1386.2,4292.6 1390.8,4293.6 1395.4,4294.5 1400,4295.5 1404.6,4296.4 1409.2,4297.2 1413.8,4298.1 1418.4,4299 1423,4299.8 1427.6,4300.7 1432.2,4301.5 1436.8,4302.3 1441.4,4303.1 1446,4303.9 1450.6,4304.7 1455.2,4305.4 1459.8,4306.2 1464.4,4306.9 1469,4307.7 1473.6,4308.4 1478.2,4309.2 1482.8,4309.9 1487.4,4310.6 1492,4311.3 1496.6,4312 1501.2,4312.7 1505.8,4313.4 1510.4,4314.1 1515,4314.8 1519.6,4315.5 1524.2,4316.2 1528.8,4316.8 1533.4,4317.5 1538,4318.1 1542.6,4318.8 1547.2,4319.4 1551.8,4320.1 1556.4,4320.7 1561,4321.3 1565.6,4321.9 1570.2,4322.5 1574.8,4323.1 1579.4,4323.7 1584,4324.3 1588.6,4324.8 1593.2,4325.4 1597.8,4325.9 1602.4,4326.5 1607,4327 1611.6,4327.6 1616.2,4328.1 1620.8,4328.6 1625.4,4329.1 1630,4329.6 1634.6,4330.2 1639.2,4330.7 1643.8,4331.2 1648.4,4331.7 1653,4332.2 1657.6,4332.6 1662.2,4333.1 1666.8,4333.6 1671.4,4334.1 1676,4334.6 1680.6,4335.1 1685.2,4335.5 1689.8,4336 1694.4,4336.5 1699,4336.9 1703.6,4337.4 1708.2,4337.9 1712.8,4338.3 1717.4,4338.8 1722,4339.2 1726.6,4339.7 1731.2,4340.2 1735.8,4340.6 1740.4,4341.1 1745,4341.5 1749.6,4342 1754.2,4342.4 1758.8,4342.9 1763.4,4343.4 1768,4343.8 1772.6,4344.3 1777.2,4344.7 1781.8,4345.2 1786.4,4345.6 1791,4346.1 1795.6,4346.5 1800.2,4347 1804.8,4347.5 1809.4,4347.9 1814,4348.4 1818.6,4348.8 1823.2,4349.2 1827.8,4349.7 1832.4,4350.1 1837,4350.6 1841.6,4351 1846.2,4351.5 1850.8,4351.9 1855.4,4352.3 1860,4352.8 1864.6,4353.2 1869.2,4353.7 1873.8,4354.1 1878.4,4354.5 1883,4354.9 1887.6,4355.4 1892.2,4355.8 1896.8,4356.2 1901.4,4356.7 1906,4357.1 1910.6,4357.5 1915.2,4357.9 1919.8,4358.3 1924.4,4358.8 1929,4359.2 1933.6,4359.6 1938,4360" fill="none" stroke="#000" stroke-width="2.2" stroke-linejoin="round" marker-start="url(#m3c)" marker-mid="url(#m3c)" marker-end="url(#m3c)"/>
<polyline points="279,4400 286.6,4400 294.2,4400 301.8,4400 309.4,4400 317,4400 324.6,4400 332.2,4400 339.8,4400 347.4,4399.9 355,4399.9 362.6,4399.9 370.2,4399.9 377.8,4399.9 385.4,4399.8 393,4399.8 400.6,4399.8 408.2,4399.7 415.8,4399.7 423.4,4399.7 431,4399.6 438.6,4399.6 446.2,4399.5 453.8,4399.5 461.4,4399.4 469,4399.4 476.6,4399.3 484.2,4399.2 491.8,4399.2 499.4,4399.1 507,4399 514.6,4399 522.2,4398.9 529.8,4398.8 537.4,4398.7 545,4398.6 552.6,4398.5 560.2,4398.4 567.8,4398.3 575.4,4398.2 583,4398 590.6,4397.9 598.2,4397.8 605.8,4397.7 613.4,4397.5 621,4397.4 628.6,4397.2 636.2,4397.1 643.8,4396.8 651.4,4395.8 659,4394 666.6,4391.6 674.2,4388.8 681.8,4385.7 689.4,4382.5 697,4379.2 704.6,4376 707.8,4374.6 711,4373.1 714.2,4371.5 717.4,4369.8 720.6,4368.1 723.8,4366.3 727,4364.4 730.2,4362.4 733.4,4360.4 736.6,4358.3 739.8,4356.1 743,4353.9 746.2,4351.5 749.4,4349 752.6,4346.3 755.8,4343.5 759,4340.6 762.2,4337.6 765.4,4334.5 768.6,4331.2 771.8,4327.8 775,4324.3 778.2,4320.6 781.4,4316.5 784.6,4312.1 787.8,4307.4 791,4302.4 794.2,4297.3 797.4,4292 800.6,4286.7 803.8,4281.4 807,4276.2 810.2,4271.2 813.4,4266.3 816.6,4261.8 819.8,4257.5 823,4253.6 826.2,4249.7 829.4,4245.9 832.6,4242 835.8,4238 839,4233.6 842.2,4229 845.4,4223.8 848.6,4218 851.8,4211.1 855,4203.4 858.2,4195.1 861.4,4186.3 864.6,4177.3 867.8,4168.3 871,4159.5 874.2,4150.5 877.4,4141.2 880.6,4131.8 883.8,4122.1 887,4112.1 890.2,4102.1 893.4,4091.9 896.6,4081.1 899.8,4068.7 903,4054 906.2,4038 909.4,4021 912.6,4003.5 915.8,3990 919,3979.2 922.2,3967.7 925.4,3954.4 928.6,3940.1 931.8,3925.2 935,3910.1 938.2,3895.3 941.4,3881 944.6,3867.7 947.8,3855.5 951,3844 954.2,3832.9 957.4,3822.2 960.6,3811.9 963.8,3801.9 967,3792.1 970.2,3782.6 973.4,3773.4 976.6,3764.5 979.8,3755.8 983,3747.3 986.2,3739 989.4,3730.7 992.6,3722.5 995.8,3714.4 999,3706.5 1002.2,3698.9 1005.4,3691.7 1008.6,3683.7 1011.8,3675.5 1015,3669.9 1018.2,3669.5 1021.4,3673.8 1024.6,3680.9 1027.8,3689.4 1031,3697.6 1034.2,3705.1 1037.4,3713.1 1040.6,3721.5 1043.8,3730.1 1047,3738.8 1050.2,3747.7 1053.4,3756.8 1056.6,3766.3 1059.8,3776.3 1063,3786.8 1066.2,3797.5 1069.4,3808.3 1072.6,3819.2 1075.8,3830.2 1079,3841.1 1082.2,3851.8 1085.4,3862.4 1088.6,3872.9 1091.8,3883.5 1095,3894.1 1098.2,3904.7 1101.4,3915.3 1104.6,3926 1107.8,3936.6 1111,3947.3 1114.2,3958.1 1117.4,3969.5 1120.6,3980.8 1123.8,3990.9 1127,3999.8 1130.2,4008.1 1133.4,4015.9 1136.6,4023.4 1139.8,4030.8 1143,4038.1 1146.2,4045.5 1149.4,4053 1152.6,4060.5 1155.8,4067.9 1159,4075.2 1162.2,4082.3 1165.4,4089.1 1168.6,4095.6 1171.8,4101.9 1175,4108 1178.2,4113.9 1181.4,4119.7 1184.6,4125.2 1187.8,4130.5 1191,4135.5 1194.2,4140.2 1197.4,4144.7 1200.6,4149.1 1203.8,4153.3 1207,4157.4 1210.2,4161.4 1213.4,4165.4 1216.6,4169.4 1219.8,4173.4 1223,4177.4 1226.2,4181.5 1229.4,4185.5 1232.6,4189.5 1235.8,4193.4 1239,4197.1 1242.2,4200.6 1245.4,4203.9 1248.6,4206.9 1251.8,4209.8 1255,4212.7 1258.2,4215.4 1261.4,4218.1 1265.8,4221.6 1270.2,4225 1274.6,4228.1 1279,4231 1283.4,4233.7 1287.8,4236.1 1292.2,4238.3 1296.6,4240.5 1301,4242.5 1305.4,4244.4 1309.8,4246.3 1314.2,4248 1318.6,4249.7 1323,4251.3 1327.4,4252.9 1331.8,4254.5 1336.2,4256 1340.6,4257.6 1345,4259.1 1349.4,4260.6 1353.8,4262.1 1358.2,4263.5 1362.6,4265 1367,4266.3 1371.4,4267.7 1375.8,4269 1380.2,4270.3 1384.6,4271.5 1389,4272.7 1393.4,4273.9 1397.8,4275 1402.2,4276.1 1406.6,4277.2 1411,4278.2 1415.4,4279.2 1419.8,4280.2 1424.2,4281.1 1428.6,4282 1433,4282.9 1437.4,4283.8 1441.8,4284.7 1446.2,4285.6 1450.6,4286.4 1455,4287.2 1459.4,4288.1 1463.8,4288.9 1468.2,4289.7 1472.6,4290.5 1477,4291.3 1481.4,4292.1 1485.8,4292.9 1490.2,4293.7 1494.6,4294.4 1499,4295.2 1503.4,4295.9 1507.8,4296.6 1512.2,4297.4 1516.6,4298.1 1521,4298.8 1525.4,4299.5 1529.8,4300.1 1534.2,4300.8 1538.6,4301.4 1543,4302 1547.4,4302.6 1551.8,4303.2 1556.2,4303.8 1560.6,4304.4 1565,4305 1569.4,4305.5 1573.8,4306 1578.2,4306.6 1582.6,4307.1 1587,4307.6 1591.4,4308.1 1595.8,4308.6 1600.2,4309.1 1604.6,4309.6 1609,4310 1613.4,4310.5 1617.8,4311 1622.2,4311.4 1626.6,4311.9 1631,4312.4 1635.4,4312.8 1639.8,4313.3 1644.2,4313.7 1648.6,4314.2 1653,4314.6 1657.4,4315.1 1661.8,4315.6 1666.2,4316 1670.6,4316.5 1675,4316.9 1679.4,4317.4 1683.8,4317.9 1688.2,4318.3 1692.6,4318.8 1697,4319.3 1701.4,4319.7 1705.8,4320.2 1710.2,4320.6 1714.6,4321.1 1719,4321.5 1723.4,4322 1727.8,4322.4 1732.2,4322.9 1736.6,4323.3 1741,4323.8 1745.4,4324.2 1749.8,4324.7 1754.2,4325.2 1758.6,4325.6 1763,4326.1 1767.4,4326.6 1771.8,4327.1 1776.2,4327.6 1780.6,4328.1 1785,4328.6 1789.4,4329.1 1793.8,4329.6 1798.2,4330.1 1802.6,4330.7 1807,4331.2 1811.4,4331.7 1815.8,4332.3 1820.2,4332.8 1824.6,4333.4 1829,4333.9 1833.4,4334.5 1837.8,4335.1 1842.2,4335.6 1846.6,4336.2 1851,4336.8 1855.4,4337.4 1859.8,4338 1864.2,4338.5 1868.6,4339.1 1873,4339.7 1877.4,4340.3 1881.8,4340.9 1886.2,4341.5 1890.6,4342.2 1895,4342.8 1899.4,4343.4 1903.8,4344 1908.2,4344.7 1912.6,4345.3 1917,4346 1921.4,4346.6 1925.8,4347.3 1930.2,4348 1934.6,4348.6 1937,4349" fill="none" stroke="#000" stroke-width="1.8" stroke-linejoin="round" marker-start="url(#m4c)" marker-mid="url(#m4c)" marker-end="url(#m4c)"/>
<polyline points="279,4401 290.3,4401 301.6,4401 312.9,4401 324.2,4401 335.5,4401 346.8,4401 358.1,4401 369.4,4401 380.7,4401 392,4401 403.3,4401 414.6,4401 425.9,4401 437.2,4401 448.5,4401 459.8,4401 471.1,4401 482.4,4401 493.7,4401 505,4401 516.3,4401 527.6,4401 538.9,4401 550.2,4401 561.5,4401 572.8,4400.9 584.1,4400.8 595.4,4400.5 606.7,4400.1 618,4399.7 629.3,4399.1 640.6,4398.5 651.9,4397.9 663.2,4397.1 674.5,4396.3 685.8,4395.5 697.1,4394.6 708.4,4393.7 719.7,4392.8 731,4391.8 742.3,4390.8 753.6,4389.6 764.9,4388.2 776.2,4386.5 787.5,4384.6 798.8,4382.6 810.1,4380.4 821.4,4378.1 832.7,4375.7 844,4373.3 855.3,4370.9 866.6,4368.5 877.9,4365.8 889.2,4362.3 900.5,4357.2 911.8,4347.6 923.1,4336.9 934.4,4325.3 945.7,4314.3 957,4302 982.5,4266 993.7,4232.4 1001,4198.8 1012.4,4154 1031,4101.8 1042,4038.4 1050.3,3952.7 1067,3837 1080,3747.5 1087,3659.5 1101.8,3627 1114,3660.5 1127,3683 1139.9,3766 1153,3818 1166,3881.8 1177,3941.5 1190.7,3993.6 1201.9,4066 1201.9,4066" fill="none" stroke="#000" stroke-width="3.8" stroke-linejoin="round" marker-start="url(#m5c)" marker-mid="url(#m5c)" marker-end="url(#m5c)"/>
</g>
<path d="M279,3271.7999999999997V4527.1" stroke="#000" stroke-width="3" fill="none"/>
<path d="M1962.9,3271.7999999999997V4527.1" stroke="#000" stroke-width="4" fill="none"/>
<path d="M277.5,3273.6H1964.9" stroke="#000" stroke-width="3.6" fill="none"/>
<path d="M277.5,4525H1964.9" stroke="#000" stroke-width="4.2" fill="none"/>
<line x1="264" y1="4524.7" x2="279" y2="4524.7" stroke="#000" stroke-width="3.2" />
<line x1="253" y1="4428.5" x2="279" y2="4428.5" stroke="#000" stroke-width="3.2" />
<text x="237" y="4445.5" class="ss" font-size="62.5" font-weight="bold" text-anchor="end" >0.0</text>
<line x1="264" y1="4332.3" x2="279" y2="4332.3" stroke="#000" stroke-width="3.2" />
<line x1="253" y1="4236" x2="279" y2="4236" stroke="#000" stroke-width="3.2" />
<text x="237" y="4253" class="ss" font-size="62.5" font-weight="bold" text-anchor="end" >0.2</text>
<line x1="264" y1="4139.8" x2="279" y2="4139.8" stroke="#000" stroke-width="3.2" />
<line x1="253" y1="4043.5" x2="279" y2="4043.5" stroke="#000" stroke-width="3.2" />
<text x="237" y="4060.5" class="ss" font-size="62.5" font-weight="bold" text-anchor="end" >0.4</text>
<line x1="264" y1="3947.3" x2="279" y2="3947.3" stroke="#000" stroke-width="3.2" />
<line x1="253" y1="3851.1" x2="279" y2="3851.1" stroke="#000" stroke-width="3.2" />
<text x="237" y="3868.1" class="ss" font-size="62.5" font-weight="bold" text-anchor="end" >0.6</text>
<line x1="264" y1="3754.8" x2="279" y2="3754.8" stroke="#000" stroke-width="3.2" />
<line x1="253" y1="3658.6" x2="279" y2="3658.6" stroke="#000" stroke-width="3.2" />
<text x="237" y="3675.6" class="ss" font-size="62.5" font-weight="bold" text-anchor="end" >0.8</text>
<line x1="264" y1="3562.3" x2="279" y2="3562.3" stroke="#000" stroke-width="3.2" />
<line x1="253" y1="3466.1" x2="279" y2="3466.1" stroke="#000" stroke-width="3.2" />
<text x="237" y="3483.1" class="ss" font-size="62.5" font-weight="bold" text-anchor="end" >1.0</text>
<line x1="264" y1="3369.9" x2="279" y2="3369.9" stroke="#000" stroke-width="3.2" />
<line x1="253" y1="3273.6" x2="279" y2="3273.6" stroke="#000" stroke-width="3.2" />
<text x="237" y="3290.6" class="ss" font-size="62.5" font-weight="bold" text-anchor="end" >1.2</text>
<line x1="279" y1="4525" x2="279" y2="4552" stroke="#000" stroke-width="3.2" />
<text x="279" y="4614.5" class="ss" font-size="62.5" font-weight="bold" text-anchor="middle" >200</text>
<line x1="419.3" y1="4525" x2="419.3" y2="4539" stroke="#000" stroke-width="3.2" />
<line x1="559.7" y1="4525" x2="559.7" y2="4552" stroke="#000" stroke-width="3.2" />
<text x="559.7" y="4614.5" class="ss" font-size="62.5" font-weight="bold" text-anchor="middle" >250</text>
<line x1="700" y1="4525" x2="700" y2="4539" stroke="#000" stroke-width="3.2" />
<line x1="840.3" y1="4525" x2="840.3" y2="4552" stroke="#000" stroke-width="3.2" />
<text x="840.3" y="4614.5" class="ss" font-size="62.5" font-weight="bold" text-anchor="middle" >300</text>
<line x1="980.6" y1="4525" x2="980.6" y2="4539" stroke="#000" stroke-width="3.2" />
<line x1="1121" y1="4525" x2="1121" y2="4552" stroke="#000" stroke-width="3.2" />
<text x="1121" y="4614.5" class="ss" font-size="62.5" font-weight="bold" text-anchor="middle" >350</text>
<line x1="1261.3" y1="4525" x2="1261.3" y2="4539" stroke="#000" stroke-width="3.2" />
<line x1="1401.6" y1="4525" x2="1401.6" y2="4552" stroke="#000" stroke-width="3.2" />
<text x="1401.6" y="4614.5" class="ss" font-size="62.5" font-weight="bold" text-anchor="middle" >400</text>
<line x1="1541.9" y1="4525" x2="1541.9" y2="4539" stroke="#000" stroke-width="3.2" />
<line x1="1682.2" y1="4525" x2="1682.2" y2="4552" stroke="#000" stroke-width="3.2" />
<text x="1682.2" y="4614.5" class="ss" font-size="62.5" font-weight="bold" text-anchor="middle" >450</text>
<line x1="1822.6" y1="4525" x2="1822.6" y2="4539" stroke="#000" stroke-width="3.2" />
<line x1="1962.9" y1="4525" x2="1962.9" y2="4552" stroke="#000" stroke-width="3.2" />
<text x="1962.9" y="4614.5" class="ss" font-size="62.5" font-weight="bold" text-anchor="middle" >500</text>
<text x="1105" y="4721.5" class="ss" font-size="69.2" font-weight="bold" text-anchor="middle">Temperature (<tspan font-size="62" dy="-11" dx="-2">°</tspan><tspan dy="11" dx="-1">C)</tspan></text>
<text transform="translate(80,3840) rotate(-90)" class="ss" font-size="69.5" font-weight="bold" text-anchor="middle">tan delta</text>
<line x1="1521.7" y1="3783.4" x2="1658.7" y2="3783.4" stroke="#000" stroke-width="2.8" />
<use href="#gm1c" x="1590.5" y="3783.4"/>
<text x="1678" y="3804.4" class="ss" font-size="66" font-weight="bold" text-anchor="start" >PI-1</text>
<line x1="1521.7" y1="3869" x2="1658.7" y2="3869" stroke="#000" stroke-width="6" />
<use href="#gm2c" x="1590.5" y="3869"/>
<text x="1678" y="3890" class="ss" font-size="66" font-weight="bold" text-anchor="start" >PI-2</text>
<line x1="1521.7" y1="3955.3" x2="1658.7" y2="3955.3" stroke="#000" stroke-width="2.4" />
<use href="#gm3c" x="1590.5" y="3955.3"/>
<text x="1678" y="3976.3" class="ss" font-size="66" font-weight="bold" text-anchor="start" >PI-3</text>
<line x1="1521.7" y1="4039.7" x2="1658.7" y2="4039.7" stroke="#000" stroke-width="2.4" />
<use href="#gm4c" x="1590.5" y="4039.7"/>
<text x="1678" y="4060.7" class="ss" font-size="66" font-weight="bold" text-anchor="start" >PI-4</text>
<line x1="1521.7" y1="4126.6" x2="1658.7" y2="4126.6" stroke="#000" stroke-width="6" />
<use href="#gm5c" x="1590.5" y="4126.6"/>
<text x="1678" y="4147.6" class="ss" font-size="66" font-weight="bold" text-anchor="start" >PI-5</text>
<text x="1030" y="4855" class="sf" font-size="84" text-anchor="middle">(<tspan font-weight="bold">c</tspan>)</text>
<text x="743.4" y="3506" class="ss" font-size="61.5" font-weight="bold" text-anchor="middle" >278.8</text>
<text x="993.5" y="3480.5" class="ss" font-size="61.5" font-weight="bold" text-anchor="middle" >326.3</text>
<text x="1133.5" y="3562" class="ss" font-size="61.5" font-weight="bold" text-anchor="middle" >331.3</text>
<text x="1341.3" y="3586" class="ss" font-size="61.5" font-weight="bold" text-anchor="middle" >346.9</text>
<text x="862.6" y="3727" class="ss" font-size="57" font-weight="bold" text-anchor="middle" >308.4</text>
<line x1="1086.6" y1="3581" x2="1057.1" y2="3645.1" stroke="#000" stroke-width="2" stroke-dasharray="7 5"/>
<polygon points="1047.5,3666 1053.1,3636.6 1066.2,3642.7" fill="#000"/>
<line x1="1254" y1="3584" x2="1158.2" y2="3609.2" stroke="#000" stroke-width="2" stroke-dasharray="9 6"/>
<polygon points="1136,3615 1162.2,3600.7 1165.9,3614.6" fill="#000"/></svg>
</body></html>
